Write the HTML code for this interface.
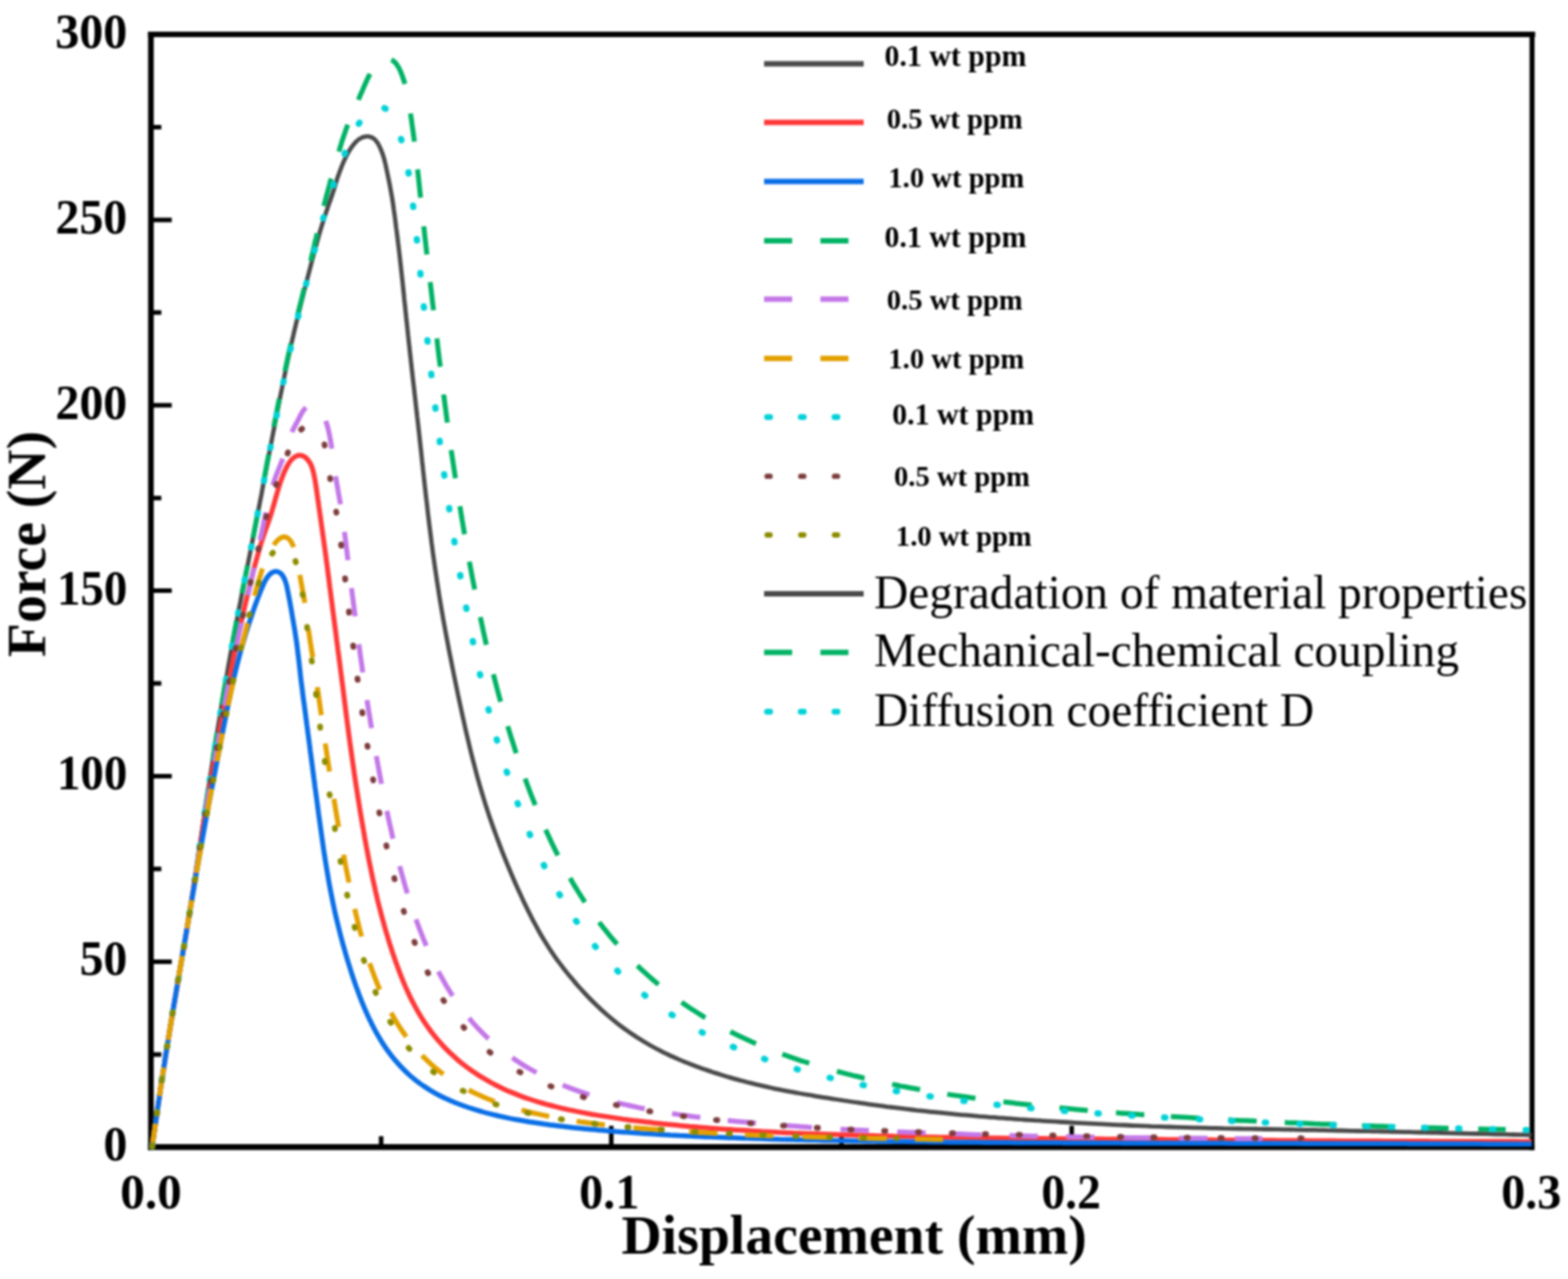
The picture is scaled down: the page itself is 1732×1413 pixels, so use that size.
<!DOCTYPE html>
<html lang="en">
<head>
<meta charset="utf-8">
<title>Force-displacement curves</title>
<style>
html,body{margin:0;padding:0;background:#fff;}
body{width:1732px;height:1413px;overflow:hidden;}
svg{display:block;}
text{white-space:pre;}
</style>
</head>
<body>
<svg width="1732" height="1413" viewBox="0 0 1732 1413">
<defs><filter id="soft" x="-2" y="-2" width="1736" height="1417" filterUnits="userSpaceOnUse" color-interpolation-filters="sRGB"><feGaussianBlur in="SourceGraphic" stdDeviation="0.8"/></filter></defs>
<rect width="1732" height="1413" fill="#fff"/>
<g filter="url(#soft)">
<g id="axes">
<path d="M166.7 35.0V1270.5" stroke="#000" stroke-width="6.2" fill="none"/>
<path d="M163.6 1267.3H1695.1" stroke="#000" stroke-width="6.4" fill="none"/>
<path d="M163.6 38.0H1695.7" stroke="#000" stroke-width="5.9" fill="none"/>
<path d="M1692.3 35.0V1270.5" stroke="#000" stroke-width="5.5" fill="none"/>
<path d="M166.7 1164.9h11.5M166.7 1062.4h23.0M166.7 960.0h11.5M166.7 857.5h23.0M166.7 755.1h11.5M166.7 652.6h23.0M166.7 550.2h11.5M166.7 447.8h23.0M166.7 345.3h11.5M166.7 242.9h23.0M166.7 140.4h11.5M421.0 1267.3v-12.0M675.2 1267.3v-23.5M929.5 1267.3v-12.0M1183.8 1267.3v-23.5M1438.0 1267.3v-12.0" fill="none" stroke="#000" stroke-width="5.0"/>
</g>
<g id="curves">
<path class="c-black" fill="none" stroke="#4a4a4a" stroke-width="4.8" stroke-linejoin="round" stroke-linecap="butt" d="M168.0 1267.0C168.5 1263.7 168.9 1260.4 169.4 1257.1C169.9 1253.8 170.4 1250.5 170.9 1247.2C171.3 1243.9 171.8 1240.6 172.3 1237.3C172.8 1234.0 173.2 1230.7 173.7 1227.4C174.2 1224.1 174.7 1220.8 175.2 1217.5C175.7 1214.2 176.2 1210.9 176.6 1207.6C177.1 1204.3 177.6 1201.0 178.1 1197.7C178.6 1194.4 179.1 1191.1 179.6 1187.8C180.1 1184.5 180.7 1181.2 181.2 1177.9C181.7 1174.6 182.2 1171.3 182.7 1168.0C183.2 1164.7 183.8 1161.4 184.3 1158.1C184.8 1154.9 185.3 1151.6 185.9 1148.3C186.4 1145.0 187.0 1141.7 187.5 1138.4C188.0 1135.1 188.6 1131.8 189.1 1128.5C189.7 1125.2 190.2 1121.9 190.8 1118.6C191.3 1115.4 191.9 1112.1 192.4 1108.8C193.0 1105.5 193.5 1102.2 194.1 1098.9C194.6 1095.6 195.2 1092.3 195.8 1089.0C196.3 1085.8 196.9 1082.5 197.5 1079.2C198.0 1075.9 198.6 1072.6 199.2 1069.3C199.7 1066.0 200.3 1062.7 200.8 1059.5C201.4 1056.2 202.0 1052.9 202.5 1049.6C203.1 1046.3 203.7 1043.0 204.2 1039.7C204.8 1036.4 205.3 1033.2 205.9 1029.9C206.4 1026.6 207.0 1023.3 207.5 1020.0C208.1 1016.7 208.6 1013.4 209.1 1010.1C209.7 1006.8 210.2 1003.5 210.7 1000.2C211.3 996.9 211.8 993.7 212.3 990.4C212.8 987.1 213.3 983.8 213.8 980.5C214.3 977.2 214.8 973.9 215.3 970.6C215.8 967.3 216.3 964.0 216.8 960.7C217.3 957.4 217.8 954.1 218.3 950.8C218.7 947.5 219.2 944.2 219.7 940.9C220.2 937.6 220.7 934.3 221.2 931.0C221.6 927.7 222.1 924.4 222.6 921.1C223.1 917.8 223.6 914.5 224.1 911.2C224.6 907.9 225.1 904.6 225.6 901.3C226.1 898.0 226.5 894.7 227.0 891.4C227.5 888.1 228.1 884.8 228.6 881.5C229.1 878.2 229.6 874.9 230.1 871.6C230.6 868.3 231.1 865.0 231.6 861.7C232.1 858.4 232.6 855.1 233.2 851.8C233.7 848.5 234.2 845.2 234.7 841.9C235.2 838.7 235.7 835.4 236.3 832.1C236.8 828.8 237.3 825.5 237.8 822.2C238.4 818.9 238.9 815.6 239.4 812.3C239.9 809.0 240.5 805.7 241.0 802.4C241.5 799.1 242.1 795.8 242.6 792.5C243.1 789.3 243.7 786.0 244.2 782.7C244.8 779.4 245.3 776.1 245.9 772.8C246.4 769.5 247.0 766.2 247.6 762.9C248.1 759.7 248.7 756.4 249.3 753.1C249.8 749.8 250.4 746.5 251.0 743.2C251.6 739.9 252.1 736.6 252.7 733.4C253.3 730.1 253.9 726.8 254.5 723.5C255.1 720.2 255.7 717.0 256.3 713.7C256.9 710.4 257.5 707.1 258.1 703.8C258.7 700.5 259.3 697.3 259.9 694.0C260.5 690.7 261.1 687.4 261.8 684.2C262.4 680.9 263.0 677.6 263.6 674.3C264.3 671.1 264.9 667.8 265.6 664.5C266.2 661.2 266.8 658.0 267.5 654.7C268.1 651.4 268.8 648.2 269.4 644.9C270.1 641.6 270.8 638.3 271.4 635.1C272.1 631.8 272.7 628.5 273.4 625.3C274.0 622.0 274.7 618.7 275.3 615.4C276.0 612.2 276.6 608.9 277.3 605.6C277.9 602.4 278.6 599.1 279.2 595.8C279.8 592.5 280.5 589.3 281.1 586.0C281.7 582.7 282.4 579.4 283.0 576.2C283.6 572.9 284.3 569.6 284.9 566.3C285.5 563.1 286.2 559.8 286.8 556.5C287.4 553.2 288.0 550.0 288.7 546.7C289.3 543.4 289.9 540.1 290.5 536.8C291.2 533.6 291.8 530.3 292.4 527.0C293.0 523.7 293.6 520.5 294.3 517.2C294.9 513.9 295.5 510.6 296.1 507.4C296.8 504.1 297.4 500.8 298.0 497.5C298.7 494.3 299.3 491.0 299.9 487.7C300.5 484.4 301.2 481.2 301.8 477.9C302.4 474.6 303.1 471.3 303.7 468.1C304.3 464.8 305.0 461.5 305.6 458.2C306.3 455.0 306.9 451.7 307.6 448.4C308.2 445.1 308.8 441.9 309.5 438.6C310.1 435.3 310.8 432.1 311.5 428.8C312.1 425.5 312.8 422.3 313.5 419.0C314.1 415.7 314.8 412.5 315.5 409.2C316.2 405.9 316.9 402.7 317.5 399.4C318.2 396.1 318.9 392.9 319.7 389.6C320.4 386.4 321.1 383.1 321.8 379.8C322.6 376.6 323.3 373.3 324.1 370.1C324.8 366.8 325.6 363.6 326.4 360.4C327.1 357.1 327.9 353.9 328.7 350.6C329.5 347.4 330.3 344.1 331.1 340.9C331.9 337.7 332.7 334.4 333.5 331.2C334.4 328.0 335.2 324.7 336.0 321.5C336.8 318.3 337.7 315.0 338.5 311.8C339.3 308.6 340.1 305.4 341.0 302.1C341.8 298.9 342.7 295.7 343.5 292.4C344.3 289.2 345.2 286.0 346.0 282.8C346.9 279.5 347.8 276.3 348.6 273.1C349.5 269.9 350.4 266.7 351.3 263.5C352.2 260.2 353.1 257.0 354.1 253.8C355.1 250.6 356.0 247.5 357.1 244.3C358.1 241.1 359.1 237.9 360.2 234.8C361.3 231.6 362.3 228.5 363.4 225.3C364.5 222.2 365.6 219.0 366.7 215.9C367.8 212.7 368.8 209.5 369.8 206.3C370.7 203.1 371.7 200.0 372.7 196.8C373.8 193.6 374.9 190.5 376.1 187.3C377.3 184.2 378.5 181.1 379.9 178.1C381.2 175.1 382.7 172.0 384.3 169.1C385.9 166.2 387.6 163.4 389.7 160.7C391.7 158.0 394.0 155.5 396.7 153.6C399.5 151.7 402.8 150.5 406.1 150.6C409.4 150.7 412.5 152.4 414.8 154.9C417.0 157.3 418.7 160.3 420.0 163.4C421.4 166.4 422.5 169.6 423.5 172.7C424.5 175.9 425.2 179.2 426.0 182.4C426.7 185.7 427.4 189.0 428.1 192.2C428.7 195.5 429.4 198.8 430.1 202.0C430.7 205.3 431.3 208.6 431.9 211.9C432.5 215.1 433.1 218.4 433.6 221.7C434.1 225.0 434.6 228.3 435.0 231.6C435.5 234.9 435.9 238.2 436.4 241.5C436.8 244.9 437.2 248.2 437.6 251.5C438.1 254.8 438.5 258.1 438.9 261.4C439.3 264.7 439.7 268.0 440.1 271.3C440.5 274.6 440.9 278.0 441.3 281.3C441.7 284.6 442.0 287.9 442.4 291.2C442.8 294.5 443.1 297.8 443.5 301.2C443.9 304.5 444.2 307.8 444.6 311.1C444.9 314.4 445.3 317.7 445.6 321.1C446.0 324.4 446.3 327.7 446.6 331.0C447.0 334.3 447.3 337.6 447.7 341.0C448.0 344.3 448.4 347.6 448.7 350.9C449.1 354.2 449.4 357.5 449.8 360.9C450.1 364.2 450.5 367.5 450.8 370.8C451.2 374.1 451.5 377.4 451.9 380.8C452.3 384.1 452.6 387.4 453.0 390.7C453.4 394.0 453.7 397.3 454.1 400.7C454.5 404.0 454.8 407.3 455.2 410.6C455.6 413.9 455.9 417.2 456.3 420.5C456.7 423.9 457.1 427.2 457.5 430.5C457.8 433.8 458.2 437.1 458.6 440.4C459.0 443.7 459.3 447.1 459.7 450.4C460.1 453.7 460.5 457.0 460.8 460.3C461.2 463.6 461.6 466.9 462.0 470.3C462.3 473.6 462.7 476.9 463.1 480.2C463.4 483.5 463.8 486.8 464.2 490.1C464.5 493.5 464.9 496.8 465.3 500.1C465.6 503.4 466.0 506.7 466.3 510.0C466.7 513.4 467.1 516.7 467.4 520.0C467.8 523.3 468.1 526.6 468.5 529.9C468.9 533.2 469.2 536.6 469.6 539.9C470.0 543.2 470.3 546.5 470.7 549.8C471.1 553.1 471.5 556.5 471.9 559.8C472.2 563.1 472.6 566.4 473.0 569.7C473.4 573.0 473.8 576.3 474.2 579.6C474.6 582.9 475.0 586.3 475.5 589.6C475.9 592.9 476.3 596.2 476.7 599.5C477.2 602.8 477.6 606.1 478.0 609.4C478.5 612.7 478.9 616.0 479.4 619.3C479.9 622.6 480.3 625.9 480.8 629.2C481.3 632.5 481.8 635.8 482.3 639.1C482.7 642.4 483.3 645.7 483.8 649.0C484.3 652.3 484.8 655.6 485.3 658.9C485.9 662.2 486.4 665.5 487.0 668.8C487.5 672.1 488.1 675.4 488.7 678.6C489.2 681.9 489.8 685.2 490.4 688.5C491.0 691.8 491.6 695.1 492.2 698.3C492.8 701.6 493.4 704.9 494.1 708.2C494.7 711.4 495.3 714.7 495.9 718.0C496.6 721.3 497.2 724.5 497.9 727.8C498.5 731.1 499.2 734.4 499.8 737.6C500.5 740.9 501.1 744.2 501.8 747.4C502.5 750.7 503.1 754.0 503.8 757.2C504.5 760.5 505.2 763.8 505.8 767.0C506.5 770.3 507.2 773.6 507.9 776.8C508.6 780.1 509.3 783.4 510.0 786.6C510.7 789.9 511.4 793.1 512.2 796.4C512.9 799.6 513.6 802.9 514.3 806.2C515.1 809.4 515.8 812.7 516.6 815.9C517.4 819.1 518.1 822.4 518.9 825.6C519.7 828.9 520.5 832.1 521.3 835.4C522.1 838.6 522.9 841.8 523.8 845.0C524.6 848.3 525.5 851.5 526.3 854.7C527.2 857.9 528.1 861.2 529.0 864.4C529.9 867.6 530.8 870.8 531.8 874.0C532.7 877.2 533.7 880.4 534.7 883.6C535.6 886.7 536.6 889.9 537.7 893.1C538.7 896.3 539.7 899.4 540.8 902.6C541.9 905.8 543.0 908.9 544.1 912.1C545.2 915.2 546.3 918.3 547.5 921.5C548.6 924.6 549.8 927.7 551.0 930.9C552.1 934.0 553.3 937.1 554.5 940.2C555.8 943.3 557.0 946.4 558.2 949.5C559.5 952.6 560.7 955.7 562.0 958.8C563.3 961.8 564.6 964.9 565.9 968.0C567.2 971.1 568.5 974.1 569.9 977.2C571.2 980.2 572.6 983.3 574.0 986.3C575.4 989.3 576.8 992.3 578.2 995.4C579.6 998.4 581.1 1001.4 582.5 1004.4C584.0 1007.4 585.5 1010.4 587.0 1013.3C588.5 1016.3 590.1 1019.3 591.7 1022.2C593.2 1025.1 594.8 1028.1 596.5 1031.0C598.1 1033.9 599.8 1036.7 601.6 1039.6C603.3 1042.4 605.1 1045.2 606.9 1048.0C608.7 1050.8 610.6 1053.6 612.5 1056.3C614.4 1059.1 616.4 1061.8 618.4 1064.4C620.4 1067.1 622.4 1069.8 624.5 1072.4C626.5 1075.0 628.6 1077.6 630.8 1080.1C632.9 1082.7 635.1 1085.2 637.3 1087.8C639.5 1090.3 641.7 1092.7 643.9 1095.2C646.2 1097.7 648.5 1100.1 650.8 1102.5C653.2 1104.9 655.5 1107.2 657.9 1109.5C660.3 1111.8 662.7 1114.1 665.2 1116.4C667.7 1118.6 670.2 1120.8 672.7 1123.0C675.3 1125.2 677.8 1127.3 680.4 1129.4C683.0 1131.4 685.7 1133.5 688.4 1135.5C691.1 1137.4 693.8 1139.4 696.5 1141.3C699.3 1143.2 702.0 1145.0 704.8 1146.8C707.7 1148.6 710.5 1150.3 713.4 1152.0C716.2 1153.7 719.1 1155.4 722.1 1157.0C725.0 1158.6 728.0 1160.1 730.9 1161.6C733.9 1163.1 736.9 1164.6 739.9 1166.0C743.0 1167.4 746.0 1168.8 749.1 1170.1C752.1 1171.4 755.2 1172.7 758.3 1173.9C761.4 1175.2 764.5 1176.4 767.6 1177.5C770.8 1178.7 773.9 1179.9 777.0 1181.0C780.2 1182.1 783.4 1183.1 786.5 1184.2C789.7 1185.2 792.9 1186.3 796.0 1187.2C799.2 1188.2 802.4 1189.2 805.6 1190.1C808.8 1191.1 812.0 1192.0 815.2 1192.9C818.5 1193.8 821.7 1194.6 824.9 1195.5C828.1 1196.3 831.4 1197.1 834.6 1197.9C837.9 1198.7 841.1 1199.4 844.4 1200.1C847.6 1200.9 850.9 1201.6 854.1 1202.3C857.4 1203.0 860.7 1203.6 864.0 1204.3C867.2 1204.9 870.5 1205.5 873.8 1206.2C877.1 1206.8 880.3 1207.4 883.6 1208.0C886.9 1208.5 890.2 1209.1 893.5 1209.7C896.8 1210.2 900.1 1210.8 903.3 1211.3C906.6 1211.9 909.9 1212.4 913.2 1212.9C916.5 1213.5 919.8 1214.0 923.1 1214.5C926.4 1215.0 929.7 1215.5 933.0 1216.0C936.3 1216.5 939.6 1217.0 942.9 1217.5C946.2 1218.0 949.5 1218.4 952.8 1218.9C956.1 1219.4 959.4 1219.8 962.7 1220.3C966.0 1220.8 969.3 1221.2 972.6 1221.6C975.9 1222.1 979.2 1222.5 982.5 1223.0C985.9 1223.4 989.2 1223.8 992.5 1224.2C995.8 1224.6 999.1 1225.0 1002.4 1225.4C1005.7 1225.8 1009.0 1226.2 1012.3 1226.6C1015.7 1226.9 1019.0 1227.3 1022.3 1227.6C1025.6 1228.0 1028.9 1228.4 1032.2 1228.7C1035.6 1229.0 1038.9 1229.4 1042.2 1229.7C1045.5 1230.0 1048.8 1230.3 1052.2 1230.6C1055.5 1231.0 1058.8 1231.3 1062.1 1231.6C1065.4 1231.8 1068.8 1232.1 1072.1 1232.4C1075.4 1232.7 1078.7 1233.0 1082.1 1233.3C1085.4 1233.5 1088.7 1233.8 1092.0 1234.1C1095.4 1234.3 1098.7 1234.6 1102.0 1234.8C1105.3 1235.1 1108.7 1235.3 1112.0 1235.6C1115.3 1235.8 1118.7 1236.1 1122.0 1236.3C1125.3 1236.5 1128.6 1236.7 1132.0 1237.0C1135.3 1237.2 1138.6 1237.4 1141.9 1237.6C1145.3 1237.8 1148.6 1238.1 1151.9 1238.3C1155.3 1238.5 1158.6 1238.7 1161.9 1238.9C1165.2 1239.1 1168.6 1239.3 1171.9 1239.5C1175.2 1239.7 1178.6 1239.9 1181.9 1240.0C1185.2 1240.2 1188.6 1240.4 1191.9 1240.6C1195.2 1240.8 1198.5 1241.0 1201.9 1241.1C1205.2 1241.3 1208.5 1241.5 1211.9 1241.6C1215.2 1241.8 1218.5 1242.0 1221.9 1242.1C1225.2 1242.3 1228.5 1242.4 1231.9 1242.6C1235.2 1242.8 1238.5 1242.9 1241.9 1243.0C1245.2 1243.2 1248.5 1243.3 1251.9 1243.5C1255.2 1243.6 1258.5 1243.8 1261.9 1243.9C1265.2 1244.0 1268.5 1244.1 1271.9 1244.3C1275.2 1244.4 1278.5 1244.5 1281.9 1244.6C1285.2 1244.7 1288.5 1244.9 1291.9 1245.0C1295.2 1245.1 1298.5 1245.2 1301.9 1245.3C1305.2 1245.4 1308.5 1245.5 1311.9 1245.6C1315.2 1245.7 1318.5 1245.8 1321.9 1245.8C1325.2 1245.9 1328.5 1246.0 1331.9 1246.1C1335.2 1246.2 1338.5 1246.3 1341.9 1246.3C1345.2 1246.4 1348.5 1246.5 1351.9 1246.6C1355.2 1246.6 1358.5 1246.7 1361.9 1246.8C1365.2 1246.8 1368.5 1246.9 1371.9 1247.0C1375.2 1247.0 1378.5 1247.1 1381.9 1247.2C1385.2 1247.2 1388.6 1247.3 1391.9 1247.3C1395.2 1247.4 1398.6 1247.5 1401.9 1247.5C1405.2 1247.6 1408.6 1247.6 1411.9 1247.7C1415.2 1247.8 1418.6 1247.8 1421.9 1247.9C1425.2 1247.9 1428.6 1248.0 1431.9 1248.1C1435.2 1248.1 1438.6 1248.2 1441.9 1248.3C1445.2 1248.3 1448.6 1248.4 1451.9 1248.4C1455.2 1248.5 1458.6 1248.6 1461.9 1248.6C1465.3 1248.7 1468.6 1248.8 1471.9 1248.8C1475.3 1248.9 1478.6 1249.0 1481.9 1249.0C1485.3 1249.1 1488.6 1249.2 1491.9 1249.3C1495.3 1249.3 1498.6 1249.4 1501.9 1249.5C1505.3 1249.5 1508.6 1249.6 1511.9 1249.7C1515.3 1249.8 1518.6 1249.8 1521.9 1249.9C1525.3 1250.0 1528.6 1250.0 1531.9 1250.1C1535.3 1250.2 1538.6 1250.3 1542.0 1250.3C1545.3 1250.4 1548.6 1250.5 1552.0 1250.6C1555.3 1250.7 1558.6 1250.7 1562.0 1250.8C1565.3 1250.9 1568.6 1251.0 1572.0 1251.0C1575.3 1251.1 1578.6 1251.2 1582.0 1251.3C1585.3 1251.4 1588.6 1251.4 1592.0 1251.5C1595.3 1251.6 1598.6 1251.7 1602.0 1251.8C1605.3 1251.8 1608.6 1251.9 1612.0 1252.0C1615.3 1252.1 1618.6 1252.2 1622.0 1252.3C1625.3 1252.3 1628.6 1252.4 1632.0 1252.5C1635.3 1252.6 1638.6 1252.7 1642.0 1252.7C1645.3 1252.8 1648.7 1252.9 1652.0 1253.0C1655.3 1253.1 1658.7 1253.2 1662.0 1253.2C1665.3 1253.3 1668.7 1253.4 1672.0 1253.5C1675.3 1253.6 1678.7 1253.7 1682.0 1253.7C1685.3 1253.8 1688.7 1253.9 1692.0 1254.0"/>
<path class="c-red" fill="none" stroke="#ff3838" stroke-width="5.5" stroke-linejoin="round" stroke-linecap="butt" d="M168.0 1267.0C168.5 1263.7 168.9 1260.4 169.4 1257.1C169.9 1253.8 170.4 1250.5 170.9 1247.2C171.3 1243.9 171.8 1240.6 172.3 1237.3C172.8 1234.0 173.2 1230.7 173.7 1227.4C174.2 1224.1 174.7 1220.8 175.2 1217.5C175.7 1214.2 176.2 1210.9 176.7 1207.6C177.1 1204.3 177.6 1201.0 178.1 1197.7C178.6 1194.4 179.1 1191.1 179.6 1187.8C180.2 1184.5 180.7 1181.2 181.2 1177.9C181.7 1174.6 182.2 1171.3 182.7 1168.0C183.2 1164.7 183.8 1161.4 184.3 1158.1C184.8 1154.8 185.4 1151.5 185.9 1148.2C186.4 1144.9 187.0 1141.6 187.5 1138.3C188.0 1135.0 188.6 1131.7 189.1 1128.4C189.7 1125.1 190.2 1121.8 190.8 1118.6C191.3 1115.3 191.9 1112.0 192.4 1108.7C193.0 1105.4 193.5 1102.1 194.1 1098.8C194.6 1095.5 195.2 1092.2 195.8 1088.9C196.3 1085.7 196.9 1082.4 197.5 1079.1C198.0 1075.8 198.6 1072.5 199.1 1069.2C199.7 1065.9 200.3 1062.6 200.8 1059.3C201.4 1056.0 202.0 1052.8 202.5 1049.5C203.1 1046.2 203.6 1042.9 204.2 1039.6C204.8 1036.3 205.3 1033.0 205.9 1029.7C206.4 1026.4 207.0 1023.1 207.5 1019.8C208.1 1016.6 208.6 1013.3 209.2 1010.0C209.7 1006.7 210.2 1003.4 210.8 1000.1C211.3 996.8 211.8 993.5 212.3 990.2C212.9 986.9 213.4 983.6 213.9 980.3C214.4 977.0 214.9 973.7 215.5 970.4C216.0 967.1 216.5 963.8 217.0 960.5C217.5 957.2 218.0 953.9 218.5 950.6C219.0 947.3 219.5 944.0 220.1 940.7C220.6 937.4 221.1 934.1 221.6 930.8C222.1 927.5 222.6 924.3 223.2 921.0C223.7 917.7 224.2 914.4 224.7 911.1C225.3 907.8 225.8 904.5 226.4 901.2C226.9 897.9 227.4 894.6 228.0 891.3C228.5 888.0 229.1 884.7 229.7 881.4C230.2 878.1 230.8 874.9 231.4 871.6C231.9 868.3 232.5 865.0 233.1 861.7C233.7 858.4 234.2 855.1 234.8 851.8C235.4 848.6 236.0 845.3 236.6 842.0C237.1 838.7 237.7 835.4 238.3 832.1C238.9 828.8 239.5 825.6 240.1 822.3C240.7 819.0 241.3 815.7 241.9 812.4C242.4 809.1 243.0 805.9 243.6 802.6C244.2 799.3 244.8 796.0 245.4 792.7C246.0 789.4 246.6 786.2 247.2 782.9C247.8 779.6 248.4 776.3 249.1 773.0C249.7 769.7 250.3 766.5 250.9 763.2C251.5 759.9 252.1 756.6 252.8 753.3C253.4 750.1 254.0 746.8 254.7 743.5C255.3 740.2 255.9 737.0 256.6 733.7C257.2 730.4 257.9 727.1 258.6 723.9C259.3 720.6 259.9 717.3 260.6 714.1C261.3 710.8 262.0 707.5 262.7 704.3C263.4 701.0 264.1 697.8 264.8 694.5C265.6 691.2 266.3 688.0 267.0 684.7C267.7 681.5 268.5 678.2 269.2 675.0C270.0 671.7 270.7 668.5 271.5 665.2C272.3 662.0 273.0 658.7 273.8 655.5C274.6 652.2 275.4 649.0 276.2 645.7C276.9 642.5 277.8 639.3 278.6 636.0C279.4 632.8 280.2 629.6 281.1 626.3C281.9 623.1 282.8 619.9 283.7 616.7C284.6 613.4 285.5 610.2 286.4 607.0C287.4 603.8 288.3 600.6 289.3 597.5C290.3 594.3 291.4 591.1 292.5 587.9C293.6 584.8 294.7 581.6 295.8 578.5C296.9 575.4 298.0 572.2 299.1 569.0C300.1 565.9 301.0 562.7 301.9 559.4C302.9 556.2 303.7 553.0 304.6 549.8C305.5 546.6 306.4 543.4 307.4 540.2C308.3 537.0 309.4 533.8 310.5 530.6C311.6 527.5 312.7 524.4 314.1 521.3C315.4 518.3 316.8 515.2 318.6 512.4C320.3 509.5 322.5 506.8 325.2 505.0C328.1 503.1 331.7 502.6 334.8 503.8C337.7 505.0 340.1 507.6 341.9 510.6C343.7 513.4 344.9 516.6 345.7 519.8C346.6 523.0 347.2 526.3 347.8 529.6C348.4 532.9 348.9 536.2 349.4 539.5C349.9 542.8 350.4 546.1 350.8 549.4C351.3 552.7 351.8 556.0 352.2 559.3C352.7 562.6 353.1 565.9 353.6 569.2C354.1 572.5 354.5 575.8 355.0 579.1C355.5 582.4 355.9 585.7 356.4 589.0C356.9 592.3 357.3 595.6 357.8 599.0C358.2 602.3 358.7 605.6 359.2 608.9C359.6 612.2 360.1 615.5 360.5 618.8C360.9 622.1 361.4 625.4 361.8 628.7C362.2 632.0 362.6 635.3 363.1 638.7C363.5 642.0 363.9 645.3 364.3 648.6C364.8 651.9 365.2 655.2 365.6 658.5C366.0 661.8 366.5 665.1 366.9 668.4C367.3 671.8 367.7 675.1 368.2 678.4C368.6 681.7 369.0 685.0 369.5 688.3C369.9 691.6 370.3 694.9 370.8 698.2C371.2 701.5 371.6 704.8 372.0 708.2C372.5 711.5 372.9 714.8 373.3 718.1C373.8 721.4 374.2 724.7 374.6 728.0C375.1 731.3 375.5 734.6 375.9 737.9C376.3 741.3 376.8 744.6 377.2 747.9C377.6 751.2 378.0 754.5 378.5 757.8C378.9 761.1 379.3 764.4 379.7 767.7C380.1 771.1 380.5 774.4 381.0 777.7C381.4 781.0 381.8 784.3 382.2 787.6C382.6 790.9 383.1 794.2 383.5 797.5C383.9 800.8 384.4 804.2 384.8 807.5C385.2 810.8 385.7 814.1 386.1 817.4C386.6 820.7 387.0 824.0 387.5 827.3C387.9 830.6 388.4 833.9 388.9 837.2C389.3 840.5 389.8 843.8 390.3 847.1C390.8 850.4 391.3 853.7 391.7 857.0C392.2 860.3 392.7 863.6 393.2 866.9C393.7 870.2 394.2 873.5 394.8 876.8C395.3 880.1 395.8 883.4 396.3 886.7C396.9 890.0 397.4 893.3 397.9 896.6C398.5 899.9 399.0 903.2 399.6 906.5C400.2 909.8 400.7 913.1 401.3 916.3C401.9 919.6 402.4 922.9 403.0 926.2C403.6 929.5 404.2 932.8 404.8 936.1C405.5 939.3 406.1 942.6 406.7 945.9C407.3 949.2 408.0 952.4 408.6 955.7C409.3 959.0 410.0 962.3 410.7 965.5C411.3 968.8 412.0 972.1 412.8 975.3C413.5 978.6 414.2 981.8 414.9 985.1C415.7 988.3 416.5 991.6 417.2 994.8C418.0 998.1 418.8 1001.3 419.7 1004.5C420.5 1007.8 421.3 1011.0 422.2 1014.2C423.1 1017.4 424.0 1020.7 424.9 1023.9C425.8 1027.1 426.7 1030.3 427.7 1033.5C428.6 1036.7 429.6 1039.9 430.6 1043.1C431.6 1046.2 432.7 1049.4 433.7 1052.6C434.8 1055.7 435.8 1058.9 436.9 1062.1C438.1 1065.2 439.2 1068.3 440.4 1071.5C441.5 1074.6 442.7 1077.7 444.0 1080.8C445.2 1083.9 446.5 1087.0 447.8 1090.0C449.2 1093.1 450.5 1096.1 452.0 1099.2C453.4 1102.2 454.9 1105.2 456.4 1108.1C458.0 1111.1 459.6 1114.0 461.2 1116.9C462.9 1119.8 464.6 1122.7 466.4 1125.5C468.2 1128.3 470.0 1131.1 472.0 1133.8C473.9 1136.5 475.9 1139.2 477.9 1141.9C479.9 1144.5 482.1 1147.1 484.2 1149.6C486.4 1152.2 488.6 1154.6 490.9 1157.0C493.3 1159.5 495.6 1161.8 498.0 1164.1C500.5 1166.4 502.9 1168.6 505.5 1170.8C508.0 1173.0 510.6 1175.1 513.3 1177.1C515.9 1179.1 518.6 1181.1 521.3 1183.0C524.1 1184.9 526.9 1186.8 529.7 1188.6C532.5 1190.3 535.4 1192.1 538.3 1193.7C541.2 1195.4 544.1 1196.9 547.1 1198.5C550.0 1200.0 553.0 1201.5 556.1 1202.9C559.1 1204.3 562.1 1205.6 565.2 1206.9C568.3 1208.2 571.4 1209.4 574.5 1210.6C577.7 1211.8 580.8 1212.9 584.0 1214.0C587.1 1215.0 590.3 1216.1 593.5 1217.1C596.7 1218.0 599.9 1219.0 603.1 1219.9C606.3 1220.7 609.5 1221.6 612.8 1222.4C616.0 1223.2 619.3 1224.0 622.5 1224.8C625.8 1225.5 629.0 1226.2 632.3 1226.9C635.6 1227.6 638.8 1228.2 642.1 1228.9C645.4 1229.5 648.7 1230.1 652.0 1230.7C655.2 1231.3 658.5 1231.8 661.8 1232.4C665.1 1232.9 668.4 1233.4 671.7 1233.9C675.0 1234.4 678.3 1234.9 681.6 1235.4C684.9 1235.9 688.2 1236.3 691.5 1236.8C694.8 1237.2 698.2 1237.6 701.5 1238.1C704.8 1238.5 708.1 1238.9 711.4 1239.3C714.7 1239.7 718.0 1240.0 721.3 1240.4C724.7 1240.8 728.0 1241.1 731.3 1241.5C734.6 1241.8 737.9 1242.2 741.3 1242.5C744.6 1242.8 747.9 1243.1 751.2 1243.5C754.6 1243.8 757.9 1244.1 761.2 1244.4C764.5 1244.7 767.9 1244.9 771.2 1245.2C774.5 1245.5 777.8 1245.8 781.2 1246.0C784.5 1246.3 787.8 1246.5 791.1 1246.8C794.5 1247.0 797.8 1247.3 801.1 1247.5C804.5 1247.7 807.8 1248.0 811.1 1248.2C814.4 1248.4 817.8 1248.6 821.1 1248.8C824.4 1249.0 827.8 1249.2 831.1 1249.4C834.4 1249.6 837.8 1249.8 841.1 1250.0C844.4 1250.1 847.8 1250.3 851.1 1250.5C854.4 1250.7 857.8 1250.8 861.1 1251.0C864.4 1251.1 867.8 1251.3 871.1 1251.4C874.4 1251.6 877.8 1251.7 881.1 1251.9C884.4 1252.0 887.8 1252.1 891.1 1252.3C894.4 1252.4 897.8 1252.5 901.1 1252.6C904.4 1252.8 907.8 1252.9 911.1 1253.0C914.5 1253.1 917.8 1253.2 921.1 1253.3C924.5 1253.5 927.8 1253.6 931.1 1253.7C934.5 1253.8 937.8 1253.9 941.1 1254.0C944.5 1254.1 947.8 1254.2 951.1 1254.3C954.5 1254.4 957.8 1254.5 961.2 1254.6C964.5 1254.7 967.8 1254.8 971.2 1254.9C974.5 1255.0 977.8 1255.0 981.2 1255.1C984.5 1255.2 987.8 1255.3 991.2 1255.4C994.5 1255.5 997.9 1255.5 1001.2 1255.6C1004.5 1255.7 1007.9 1255.8 1011.2 1255.8C1014.5 1255.9 1017.9 1256.0 1021.2 1256.0C1024.5 1256.1 1027.9 1256.2 1031.2 1256.2C1034.6 1256.3 1037.9 1256.4 1041.2 1256.4C1044.6 1256.5 1047.9 1256.5 1051.2 1256.6C1054.6 1256.7 1057.9 1256.7 1061.3 1256.8C1064.6 1256.8 1067.9 1256.9 1071.3 1256.9C1074.6 1257.0 1077.9 1257.0 1081.3 1257.1C1084.6 1257.1 1087.9 1257.1 1091.3 1257.2C1094.6 1257.2 1098.0 1257.3 1101.3 1257.3C1104.6 1257.4 1108.0 1257.4 1111.3 1257.4C1114.6 1257.5 1118.0 1257.5 1121.3 1257.5C1124.7 1257.6 1128.0 1257.6 1131.3 1257.7C1134.7 1257.7 1138.0 1257.7 1141.3 1257.8C1144.7 1257.8 1148.0 1257.8 1151.4 1257.8C1154.7 1257.9 1158.0 1257.9 1161.4 1257.9C1164.7 1258.0 1168.0 1258.0 1171.4 1258.0C1174.7 1258.0 1178.1 1258.1 1181.4 1258.1C1184.7 1258.1 1188.1 1258.1 1191.4 1258.2C1194.7 1258.2 1198.1 1258.2 1201.4 1258.2C1204.8 1258.3 1208.1 1258.3 1211.4 1258.3C1214.8 1258.3 1218.1 1258.4 1221.4 1258.4C1224.8 1258.4 1228.1 1258.4 1231.4 1258.5C1234.8 1258.5 1238.1 1258.5 1241.5 1258.5C1244.8 1258.5 1248.1 1258.6 1251.5 1258.6C1254.8 1258.6 1258.1 1258.6 1261.5 1258.7C1264.8 1258.7 1268.2 1258.7 1271.5 1258.7C1274.8 1258.7 1278.2 1258.8 1281.5 1258.8C1284.8 1258.8 1288.2 1258.8 1291.5 1258.9C1294.9 1258.9 1298.2 1258.9 1301.5 1258.9C1304.9 1259.0 1308.2 1259.0 1311.5 1259.0C1314.9 1259.0 1318.2 1259.1 1321.6 1259.1C1324.9 1259.1 1328.2 1259.2 1331.6 1259.2C1334.9 1259.2 1338.2 1259.2 1341.6 1259.3C1344.9 1259.3 1348.3 1259.3 1351.6 1259.4C1354.9 1259.4 1358.3 1259.4 1361.6 1259.4C1364.9 1259.5 1368.3 1259.5 1371.6 1259.5C1375.0 1259.6 1378.3 1259.6 1381.6 1259.6C1385.0 1259.7 1388.3 1259.7 1391.6 1259.7C1395.0 1259.7 1398.3 1259.8 1401.7 1259.8C1405.0 1259.8 1408.3 1259.9 1411.7 1259.9C1415.0 1259.9 1418.3 1259.9 1421.7 1260.0C1425.0 1260.0 1428.3 1260.0 1431.7 1260.0C1435.0 1260.1 1438.4 1260.1 1441.7 1260.1C1445.0 1260.1 1448.4 1260.2 1451.7 1260.2C1455.0 1260.2 1458.4 1260.2 1461.7 1260.3C1465.1 1260.3 1468.4 1260.3 1471.7 1260.3C1475.1 1260.4 1478.4 1260.4 1481.7 1260.4C1485.1 1260.4 1488.4 1260.4 1491.8 1260.5C1495.1 1260.5 1498.4 1260.5 1501.8 1260.5C1505.1 1260.5 1508.4 1260.5 1511.8 1260.6C1515.1 1260.6 1518.5 1260.6 1521.8 1260.6C1525.1 1260.6 1528.5 1260.6 1531.8 1260.7C1535.1 1260.7 1538.5 1260.7 1541.8 1260.7C1545.2 1260.7 1548.5 1260.7 1551.8 1260.8C1555.2 1260.8 1558.5 1260.8 1561.8 1260.8C1565.2 1260.8 1568.5 1260.8 1571.9 1260.8C1575.2 1260.8 1578.5 1260.9 1581.9 1260.9C1585.2 1260.9 1588.5 1260.9 1591.9 1260.9C1595.2 1260.9 1598.6 1260.9 1601.9 1260.9C1605.2 1261.0 1608.6 1261.0 1611.9 1261.0C1615.2 1261.0 1618.6 1261.0 1621.9 1261.0C1625.3 1261.0 1628.6 1261.0 1631.9 1261.0C1635.3 1261.0 1638.6 1261.1 1641.9 1261.1C1645.3 1261.1 1648.6 1261.1 1652.0 1261.1C1655.3 1261.1 1658.6 1261.1 1662.0 1261.1C1665.3 1261.1 1668.6 1261.1 1672.0 1261.1C1675.3 1261.2 1678.7 1261.2 1682.0 1261.2C1685.3 1261.2 1688.7 1261.2 1692.0 1261.2"/>
<path class="c-blue" fill="none" stroke="#0a6fe6" stroke-width="5.5" stroke-linejoin="round" stroke-linecap="butt" d="M168.0 1267.0C168.5 1263.7 169.0 1260.4 169.4 1257.1C169.9 1253.8 170.4 1250.5 170.9 1247.2C171.3 1243.9 171.8 1240.6 172.3 1237.3C172.8 1234.0 173.2 1230.6 173.7 1227.3C174.2 1224.0 174.7 1220.7 175.2 1217.4C175.7 1214.1 176.2 1210.8 176.7 1207.5C177.1 1204.2 177.6 1200.9 178.1 1197.6C178.6 1194.3 179.1 1191.0 179.7 1187.7C180.2 1184.4 180.7 1181.1 181.2 1177.8C181.7 1174.5 182.2 1171.2 182.7 1167.9C183.2 1164.6 183.8 1161.3 184.3 1158.0C184.8 1154.7 185.4 1151.4 185.9 1148.1C186.4 1144.8 187.0 1141.5 187.5 1138.2C188.0 1134.9 188.6 1131.6 189.1 1128.4C189.7 1125.1 190.2 1121.8 190.7 1118.5C191.3 1115.2 191.8 1111.9 192.4 1108.6C192.9 1105.3 193.5 1102.0 194.1 1098.7C194.6 1095.4 195.2 1092.1 195.7 1088.8C196.3 1085.5 196.9 1082.3 197.4 1079.0C198.0 1075.7 198.5 1072.4 199.1 1069.1C199.7 1065.8 200.2 1062.5 200.8 1059.2C201.4 1055.9 201.9 1052.6 202.5 1049.3C203.1 1046.0 203.6 1042.8 204.2 1039.5C204.7 1036.2 205.3 1032.9 205.9 1029.6C206.4 1026.3 207.0 1023.0 207.6 1019.7C208.1 1016.4 208.7 1013.1 209.2 1009.8C209.8 1006.6 210.4 1003.3 210.9 1000.0C211.5 996.7 212.1 993.4 212.6 990.1C213.2 986.8 213.7 983.5 214.3 980.2C214.9 976.9 215.4 973.6 216.0 970.3C216.5 967.0 217.1 963.8 217.7 960.5C218.2 957.2 218.8 953.9 219.4 950.6C219.9 947.3 220.5 944.0 221.1 940.7C221.7 937.4 222.2 934.1 222.8 930.9C223.4 927.6 224.0 924.3 224.6 921.0C225.2 917.7 225.8 914.4 226.4 911.1C227.0 907.9 227.6 904.6 228.2 901.3C228.8 898.0 229.4 894.7 230.0 891.4C230.7 888.2 231.3 884.9 231.9 881.6C232.5 878.3 233.2 875.0 233.8 871.8C234.4 868.5 235.1 865.2 235.7 861.9C236.3 858.6 236.9 855.4 237.6 852.1C238.2 848.8 238.8 845.5 239.5 842.3C240.1 839.0 240.7 835.7 241.4 832.4C242.0 829.1 242.6 825.9 243.3 822.6C243.9 819.3 244.5 816.0 245.2 812.7C245.8 809.5 246.5 806.2 247.1 802.9C247.8 799.6 248.4 796.4 249.1 793.1C249.7 789.8 250.4 786.5 251.0 783.3C251.7 780.0 252.4 776.7 253.1 773.5C253.7 770.2 254.4 766.9 255.1 763.7C255.8 760.4 256.6 757.1 257.3 753.9C258.0 750.6 258.8 747.4 259.5 744.1C260.3 740.9 261.1 737.6 261.9 734.4C262.7 731.1 263.6 727.9 264.4 724.7C265.3 721.5 266.2 718.2 267.1 715.0C268.0 711.8 268.9 708.6 269.9 705.4C270.8 702.2 271.8 699.0 272.8 695.8C273.8 692.6 274.8 689.5 275.9 686.3C276.9 683.1 278.0 680.0 279.1 676.8C280.1 673.6 281.2 670.5 282.4 667.3C283.5 664.2 284.7 661.1 285.9 658.0C287.1 654.9 288.3 651.8 289.7 648.7C290.9 645.6 292.3 642.6 294.0 639.7C295.8 636.7 298.0 633.9 300.8 632.4C303.8 630.6 307.3 631.1 310.0 633.4C312.4 635.5 314.0 638.7 315.1 641.9C316.3 645.1 317.0 648.3 317.6 651.6C318.3 654.9 318.9 658.2 319.5 661.4C320.2 664.7 320.7 668.0 321.3 671.3C321.9 674.6 322.5 677.9 323.0 681.2C323.6 684.4 324.2 687.7 324.7 691.0C325.3 694.3 325.8 697.6 326.3 700.9C326.8 704.2 327.3 707.5 327.8 710.8C328.2 714.1 328.6 717.4 329.0 720.8C329.4 724.1 329.8 727.4 330.2 730.7C330.6 734.0 330.9 737.4 331.3 740.7C331.7 744.0 332.0 747.3 332.4 750.6C332.8 753.9 333.2 757.3 333.7 760.6C334.1 763.9 334.5 767.2 334.9 770.5C335.4 773.8 335.8 777.1 336.3 780.4C336.7 783.7 337.2 787.1 337.6 790.4C338.0 793.7 338.5 797.0 338.9 800.3C339.4 803.6 339.8 806.9 340.2 810.2C340.7 813.5 341.1 816.8 341.5 820.2C342.0 823.5 342.4 826.8 342.8 830.1C343.3 833.4 343.7 836.7 344.1 840.0C344.6 843.3 345.0 846.6 345.4 850.0C345.9 853.3 346.3 856.6 346.7 859.9C347.2 863.2 347.6 866.5 348.0 869.8C348.5 873.1 348.9 876.4 349.4 879.7C349.8 883.1 350.3 886.4 350.7 889.7C351.1 893.0 351.6 896.3 352.0 899.6C352.5 902.9 352.9 906.2 353.4 909.5C353.8 912.8 354.3 916.1 354.8 919.5C355.2 922.8 355.7 926.1 356.2 929.4C356.6 932.7 357.1 936.0 357.6 939.3C358.1 942.6 358.6 945.9 359.1 949.2C359.6 952.5 360.2 955.8 360.7 959.1C361.3 962.4 361.8 965.7 362.4 969.0C362.9 972.2 363.5 975.5 364.1 978.8C364.7 982.1 365.4 985.4 366.0 988.7C366.7 991.9 367.3 995.2 368.0 998.5C368.7 1001.7 369.4 1005.0 370.1 1008.3C370.8 1011.5 371.6 1014.8 372.4 1018.0C373.2 1021.3 373.9 1024.5 374.8 1027.8C375.6 1031.0 376.4 1034.2 377.3 1037.5C378.1 1040.7 379.0 1043.9 379.9 1047.1C380.8 1050.3 381.7 1053.5 382.7 1056.7C383.6 1060.0 384.6 1063.1 385.6 1066.3C386.6 1069.5 387.6 1072.7 388.6 1075.9C389.6 1079.1 390.7 1082.2 391.8 1085.4C392.9 1088.5 394.0 1091.7 395.2 1094.8C396.3 1098.0 397.5 1101.1 398.7 1104.2C399.9 1107.3 401.2 1110.4 402.5 1113.5C403.8 1116.5 405.1 1119.6 406.5 1122.6C407.9 1125.7 409.4 1128.7 410.9 1131.7C412.4 1134.6 413.9 1137.6 415.5 1140.5C417.2 1143.4 418.8 1146.3 420.6 1149.2C422.3 1152.0 424.1 1154.8 426.0 1157.6C427.9 1160.3 429.9 1163.0 431.9 1165.7C434.0 1168.3 436.1 1170.9 438.3 1173.4C440.5 1176.0 442.7 1178.4 445.1 1180.8C447.4 1183.2 449.8 1185.5 452.3 1187.7C454.8 1189.9 457.4 1192.0 460.0 1194.1C462.7 1196.1 465.4 1198.1 468.1 1199.9C470.9 1201.8 473.7 1203.6 476.6 1205.3C479.5 1207.0 482.4 1208.6 485.4 1210.2C488.3 1211.7 491.3 1213.1 494.4 1214.5C497.4 1215.9 500.5 1217.2 503.6 1218.5C506.7 1219.7 509.8 1220.9 513.0 1222.0C516.1 1223.1 519.3 1224.2 522.5 1225.2C525.7 1226.2 528.9 1227.1 532.1 1228.0C535.3 1229.0 538.5 1229.8 541.7 1230.6C545.0 1231.5 548.2 1232.2 551.5 1233.0C554.7 1233.7 558.0 1234.4 561.3 1235.1C564.6 1235.8 567.8 1236.4 571.1 1237.0C574.4 1237.6 577.7 1238.2 581.0 1238.7C584.3 1239.3 587.6 1239.8 590.9 1240.3C594.2 1240.8 597.5 1241.3 600.8 1241.8C604.1 1242.2 607.4 1242.7 610.7 1243.1C614.0 1243.5 617.3 1244.0 620.7 1244.3C624.0 1244.7 627.3 1245.1 630.6 1245.5C633.9 1245.9 637.2 1246.2 640.6 1246.5C643.9 1246.9 647.2 1247.2 650.5 1247.5C653.9 1247.8 657.2 1248.2 660.5 1248.4C663.8 1248.7 667.2 1249.0 670.5 1249.3C673.8 1249.6 677.1 1249.8 680.5 1250.1C683.8 1250.3 687.1 1250.6 690.5 1250.8C693.8 1251.1 697.1 1251.3 700.5 1251.5C703.8 1251.8 707.1 1252.0 710.5 1252.2C713.8 1252.4 717.1 1252.6 720.5 1252.8C723.8 1253.0 727.1 1253.2 730.5 1253.4C733.8 1253.6 737.1 1253.8 740.5 1254.0C743.8 1254.1 747.1 1254.3 750.5 1254.5C753.8 1254.6 757.1 1254.8 760.5 1255.0C763.8 1255.1 767.1 1255.3 770.5 1255.4C773.8 1255.6 777.1 1255.7 780.5 1255.9C783.8 1256.0 787.2 1256.2 790.5 1256.3C793.8 1256.4 797.2 1256.6 800.5 1256.7C803.8 1256.8 807.2 1257.0 810.5 1257.1C813.8 1257.2 817.2 1257.3 820.5 1257.4C823.9 1257.5 827.2 1257.7 830.5 1257.8C833.9 1257.9 837.2 1258.0 840.5 1258.1C843.9 1258.2 847.2 1258.3 850.6 1258.4C853.9 1258.5 857.2 1258.6 860.6 1258.7C863.9 1258.7 867.2 1258.8 870.6 1258.9C873.9 1259.0 877.3 1259.1 880.6 1259.2C883.9 1259.3 887.3 1259.3 890.6 1259.4C894.0 1259.5 897.3 1259.6 900.6 1259.6C904.0 1259.7 907.3 1259.8 910.6 1259.9C914.0 1259.9 917.3 1260.0 920.7 1260.1C924.0 1260.1 927.3 1260.2 930.7 1260.3C934.0 1260.3 937.4 1260.4 940.7 1260.4C944.0 1260.5 947.4 1260.5 950.7 1260.6C954.0 1260.7 957.4 1260.7 960.7 1260.8C964.1 1260.8 967.4 1260.9 970.7 1260.9C974.1 1261.0 977.4 1261.0 980.8 1261.1C984.1 1261.1 987.4 1261.1 990.8 1261.2C994.1 1261.2 997.5 1261.3 1000.8 1261.3C1004.1 1261.4 1007.5 1261.4 1010.8 1261.4C1014.1 1261.5 1017.5 1261.5 1020.8 1261.6C1024.2 1261.6 1027.5 1261.6 1030.8 1261.7C1034.2 1261.7 1037.5 1261.7 1040.9 1261.8C1044.2 1261.8 1047.5 1261.8 1050.9 1261.9C1054.2 1261.9 1057.6 1261.9 1060.9 1261.9C1064.2 1262.0 1067.6 1262.0 1070.9 1262.0C1074.3 1262.1 1077.6 1262.1 1080.9 1262.1C1084.3 1262.1 1087.6 1262.2 1090.9 1262.2C1094.3 1262.2 1097.6 1262.2 1101.0 1262.3C1104.3 1262.3 1107.6 1262.3 1111.0 1262.3C1114.3 1262.3 1117.7 1262.4 1121.0 1262.4C1124.3 1262.4 1127.7 1262.4 1131.0 1262.4C1134.4 1262.5 1137.7 1262.5 1141.0 1262.5C1144.4 1262.5 1147.7 1262.5 1151.1 1262.5C1154.4 1262.6 1157.7 1262.6 1161.1 1262.6C1164.4 1262.6 1167.7 1262.6 1171.1 1262.6C1174.4 1262.6 1177.8 1262.7 1181.1 1262.7C1184.4 1262.7 1187.8 1262.7 1191.1 1262.7C1194.5 1262.7 1197.8 1262.7 1201.1 1262.7C1204.5 1262.8 1207.8 1262.8 1211.2 1262.8C1214.5 1262.8 1217.8 1262.8 1221.2 1262.8C1224.5 1262.8 1227.9 1262.8 1231.2 1262.8C1234.5 1262.8 1237.9 1262.9 1241.2 1262.9C1244.5 1262.9 1247.9 1262.9 1251.2 1262.9C1254.6 1262.9 1257.9 1262.9 1261.2 1262.9C1264.6 1262.9 1267.9 1262.9 1271.3 1262.9C1274.6 1262.9 1277.9 1263.0 1281.3 1263.0C1284.6 1263.0 1288.0 1263.0 1291.3 1263.0C1294.6 1263.0 1298.0 1263.0 1301.3 1263.0C1304.7 1263.0 1308.0 1263.0 1311.3 1263.0C1314.7 1263.0 1318.0 1263.0 1321.3 1263.1C1324.7 1263.1 1328.0 1263.1 1331.4 1263.1C1334.7 1263.1 1338.0 1263.1 1341.4 1263.1C1344.7 1263.1 1348.1 1263.1 1351.4 1263.1C1354.7 1263.1 1358.1 1263.1 1361.4 1263.2C1364.8 1263.2 1368.1 1263.2 1371.4 1263.2C1374.8 1263.2 1378.1 1263.2 1381.5 1263.2C1384.8 1263.2 1388.1 1263.2 1391.5 1263.2C1394.8 1263.2 1398.2 1263.2 1401.5 1263.3C1404.8 1263.3 1408.2 1263.3 1411.5 1263.3C1414.8 1263.3 1418.2 1263.3 1421.5 1263.3C1424.9 1263.3 1428.2 1263.3 1431.5 1263.3C1434.9 1263.3 1438.2 1263.3 1441.6 1263.4C1444.9 1263.4 1448.2 1263.4 1451.6 1263.4C1454.9 1263.4 1458.3 1263.4 1461.6 1263.4C1464.9 1263.4 1468.3 1263.4 1471.6 1263.4C1475.0 1263.4 1478.3 1263.4 1481.6 1263.5C1485.0 1263.5 1488.3 1263.5 1491.6 1263.5C1495.0 1263.5 1498.3 1263.5 1501.7 1263.5C1505.0 1263.5 1508.3 1263.5 1511.7 1263.5C1515.0 1263.5 1518.4 1263.5 1521.7 1263.6C1525.0 1263.6 1528.4 1263.6 1531.7 1263.6C1535.1 1263.6 1538.4 1263.6 1541.7 1263.6C1545.1 1263.6 1548.4 1263.6 1551.8 1263.6C1555.1 1263.6 1558.4 1263.7 1561.8 1263.7C1565.1 1263.7 1568.4 1263.7 1571.8 1263.7C1575.1 1263.7 1578.5 1263.7 1581.8 1263.7C1585.1 1263.7 1588.5 1263.7 1591.8 1263.7C1595.2 1263.7 1598.5 1263.8 1601.8 1263.8C1605.2 1263.8 1608.5 1263.8 1611.9 1263.8C1615.2 1263.8 1618.5 1263.8 1621.9 1263.8C1625.2 1263.8 1628.6 1263.8 1631.9 1263.8C1635.2 1263.9 1638.6 1263.9 1641.9 1263.9C1645.3 1263.9 1648.6 1263.9 1651.9 1263.9C1655.3 1263.9 1658.6 1263.9 1661.9 1263.9C1665.3 1263.9 1668.6 1263.9 1672.0 1263.9C1675.3 1264.0 1678.6 1264.0 1682.0 1264.0C1685.3 1264.0 1688.7 1264.0 1692.0 1264.0"/>
<path class="c-green" fill="none" stroke="#00b264" stroke-width="5.5" stroke-linejoin="round" stroke-linecap="butt" stroke-dasharray="25.9 31.1 31.4 31.1 31.4 31.1 31.4 31.1 31.4 31.1 31.4 31.1 31.4 31.1 31.4 31.1 31.4 31.1 31.4 31.1 31.4 31.1 31.4 31.1 31.4 31.1 31.4 31.1 31.4 31.1 31.4 31.1 31.4 31.1 31.4 30.9 31.4 29.9 31.4 31.9 31.4 33.2 31.4 30.9 31.4 31.7 31.4 30.7 31.4 31.3 31.4 30.9 31.4 30.7 31.4 31.3 31.4 30.7 31.4 31.1 31.4 33.3 31.4 28.1 31.4 29.7 31.4 29.5 31.4 28.4 31.4 27.1 31.4 32.5 31.4 32.1 31.4 31.5 31.4 31.3 31.4 31.8 31.4 31.3 31.4 30.5 31.4 31.1 31.4 30.9 31.4 31.3 31.4 29.3 31.4 32.2 31.4 31.0 57.3 28.2 36.6 28.7 30.3 32.8 30.3 78.7" d="M168.0 1267.0C168.5 1263.7 168.9 1260.4 169.4 1257.1C169.9 1253.8 170.4 1250.5 170.9 1247.2C171.3 1243.9 171.8 1240.6 172.3 1237.3C172.8 1234.0 173.2 1230.7 173.7 1227.4C174.2 1224.1 174.7 1220.8 175.2 1217.5C175.7 1214.2 176.2 1210.9 176.6 1207.6C177.1 1204.3 177.6 1201.0 178.1 1197.7C178.6 1194.4 179.1 1191.1 179.6 1187.8C180.1 1184.5 180.7 1181.2 181.2 1177.9C181.7 1174.6 182.2 1171.3 182.7 1168.0C183.2 1164.7 183.8 1161.4 184.3 1158.1C184.8 1154.8 185.4 1151.5 185.9 1148.2C186.4 1144.9 187.0 1141.6 187.5 1138.4C188.0 1135.1 188.6 1131.8 189.1 1128.5C189.7 1125.2 190.2 1121.9 190.8 1118.6C191.3 1115.3 191.9 1112.0 192.4 1108.7C193.0 1105.4 193.5 1102.2 194.1 1098.9C194.7 1095.6 195.2 1092.3 195.8 1089.0C196.3 1085.7 196.9 1082.4 197.5 1079.1C198.0 1075.8 198.6 1072.6 199.2 1069.3C199.7 1066.0 200.3 1062.7 200.9 1059.4C201.4 1056.1 202.0 1052.8 202.5 1049.5C203.1 1046.2 203.7 1043.0 204.2 1039.7C204.8 1036.4 205.3 1033.1 205.9 1029.8C206.4 1026.5 207.0 1023.2 207.5 1019.9C208.1 1016.6 208.6 1013.3 209.1 1010.0C209.7 1006.8 210.2 1003.5 210.7 1000.2C211.3 996.9 211.8 993.6 212.3 990.3C212.8 987.0 213.3 983.7 213.8 980.4C214.3 977.1 214.8 973.8 215.3 970.5C215.8 967.2 216.3 963.9 216.8 960.6C217.3 957.3 217.8 954.0 218.3 950.7C218.8 947.4 219.2 944.1 219.7 940.8C220.2 937.5 220.7 934.2 221.2 930.9C221.7 927.6 222.1 924.3 222.6 921.0C223.1 917.7 223.6 914.4 224.1 911.1C224.6 907.8 225.1 904.5 225.6 901.2C226.1 897.9 226.6 894.6 227.1 891.3C227.6 888.0 228.1 884.7 228.6 881.4C229.1 878.1 229.6 874.8 230.1 871.5C230.6 868.2 231.1 864.9 231.6 861.6C232.1 858.3 232.7 855.0 233.2 851.7C233.7 848.4 234.2 845.1 234.7 841.8C235.2 838.5 235.8 835.2 236.3 831.9C236.8 828.6 237.3 825.3 237.8 822.1C238.4 818.8 238.9 815.5 239.4 812.2C240.0 808.9 240.5 805.6 241.0 802.3C241.6 799.0 242.1 795.7 242.6 792.4C243.2 789.1 243.7 785.8 244.3 782.5C244.8 779.2 245.4 775.9 245.9 772.7C246.5 769.4 247.0 766.1 247.6 762.8C248.1 759.5 248.7 756.2 249.3 752.9C249.9 749.6 250.4 746.4 251.0 743.1C251.6 739.8 252.2 736.5 252.7 733.2C253.3 729.9 253.9 726.6 254.5 723.4C255.1 720.1 255.7 716.8 256.3 713.5C256.9 710.2 257.5 706.9 258.1 703.7C258.7 700.4 259.3 697.1 259.9 693.8C260.6 690.5 261.2 687.3 261.8 684.0C262.4 680.7 263.1 677.4 263.7 674.2C264.3 670.9 265.0 667.6 265.6 664.3C266.2 661.1 266.9 657.8 267.5 654.5C268.2 651.2 268.8 648.0 269.5 644.7C270.1 641.4 270.8 638.2 271.4 634.9C272.1 631.6 272.8 628.3 273.4 625.1C274.1 621.8 274.7 618.5 275.4 615.3C276.0 612.0 276.6 608.7 277.3 605.4C277.9 602.2 278.6 598.9 279.2 595.6C279.8 592.3 280.5 589.1 281.1 585.8C281.7 582.5 282.3 579.2 283.0 575.9C283.6 572.7 284.2 569.4 284.8 566.1C285.5 562.8 286.1 559.6 286.7 556.3C287.3 553.0 287.9 549.7 288.5 546.4C289.2 543.2 289.8 539.9 290.4 536.6C291.0 533.3 291.6 530.0 292.2 526.8C292.8 523.5 293.4 520.2 294.0 516.9C294.6 513.6 295.2 510.4 295.9 507.1C296.5 503.8 297.1 500.5 297.7 497.2C298.3 494.0 298.9 490.7 299.5 487.4C300.1 484.1 300.7 480.8 301.4 477.6C302.0 474.3 302.6 471.0 303.2 467.7C303.8 464.4 304.5 461.2 305.1 457.9C305.7 454.6 306.4 451.3 307.0 448.1C307.7 444.8 308.3 441.5 309.0 438.2C309.6 435.0 310.3 431.7 310.9 428.4C311.6 425.2 312.3 421.9 312.9 418.6C313.6 415.4 314.3 412.1 315.0 408.8C315.7 405.6 316.4 402.3 317.1 399.0C317.8 395.8 318.5 392.5 319.2 389.3C319.9 386.0 320.7 382.8 321.4 379.5C322.1 376.2 322.9 373.0 323.6 369.7C324.4 366.5 325.1 363.2 325.9 360.0C326.7 356.7 327.5 353.5 328.2 350.3C329.0 347.0 329.8 343.8 330.6 340.5C331.4 337.3 332.2 334.1 333.0 330.8C333.8 327.6 334.6 324.3 335.4 321.1C336.2 317.9 337.0 314.6 337.7 311.4C338.5 308.1 339.3 304.9 340.1 301.6C340.8 298.4 341.6 295.1 342.4 291.9C343.1 288.6 343.9 285.4 344.6 282.1C345.4 278.9 346.1 275.6 346.9 272.4C347.6 269.1 348.4 265.9 349.2 262.6C349.9 259.4 350.7 256.1 351.5 252.9C352.3 249.7 353.1 246.4 353.9 243.2C354.7 239.9 355.5 236.7 356.3 233.5C357.1 230.2 357.9 227.0 358.8 223.8C359.6 220.5 360.4 217.3 361.3 214.1C362.1 210.9 363.0 207.6 363.9 204.4C364.7 201.2 365.6 198.0 366.5 194.8C367.4 191.5 368.3 188.3 369.2 185.1C370.1 181.9 371.0 178.7 372.0 175.5C372.9 172.3 373.9 169.1 374.8 165.9C375.8 162.7 376.7 159.5 377.7 156.3C378.7 153.2 379.8 150.0 380.9 146.8C381.9 143.7 383.1 140.5 384.3 137.4C385.5 134.3 386.7 131.2 388.0 128.1C389.3 125.1 390.7 122.0 392.0 118.9C393.3 115.9 394.7 112.8 396.0 109.8C397.3 106.7 398.6 103.7 400.0 100.6C401.3 97.5 402.6 94.5 404.0 91.4C405.3 88.4 406.7 85.4 408.3 82.4C409.7 79.4 411.3 76.4 413.2 73.7C415.1 70.9 417.4 68.4 420.2 66.6C423.2 64.8 426.6 63.9 429.8 64.8C432.8 65.7 435.6 67.9 437.8 70.6C439.8 73.2 441.3 76.2 442.6 79.3C443.9 82.5 445.0 85.6 446.0 88.7C447.1 91.9 447.9 95.1 448.7 98.4C449.5 101.6 450.2 104.9 450.8 108.2C451.4 111.4 451.9 114.7 452.4 118.0C452.9 121.3 453.4 124.6 453.8 127.9C454.3 131.2 454.8 134.5 455.2 137.9C455.7 141.2 456.2 144.5 456.6 147.8C457.0 151.1 457.5 154.4 457.9 157.7C458.3 161.0 458.7 164.3 459.1 167.6C459.5 170.9 459.8 174.3 460.2 177.6C460.6 180.9 460.9 184.2 461.3 187.5C461.7 190.8 462.0 194.2 462.4 197.5C462.7 200.8 463.1 204.1 463.4 207.4C463.8 210.8 464.1 214.1 464.5 217.4C464.9 220.7 465.2 224.0 465.6 227.3C465.9 230.7 466.3 234.0 466.6 237.3C467.0 240.6 467.4 243.9 467.7 247.2C468.1 250.6 468.5 253.9 468.9 257.2C469.2 260.5 469.6 263.8 470.0 267.1C470.4 270.4 470.7 273.8 471.1 277.1C471.5 280.4 471.9 283.7 472.3 287.0C472.7 290.3 473.1 293.6 473.4 297.0C473.8 300.3 474.2 303.6 474.6 306.9C475.0 310.2 475.4 313.5 475.8 316.8C476.2 320.2 476.6 323.5 477.0 326.8C477.3 330.1 477.7 333.4 478.1 336.7C478.5 340.0 478.9 343.3 479.3 346.7C479.7 350.0 480.1 353.3 480.5 356.6C480.9 359.9 481.3 363.2 481.7 366.5C482.1 369.9 482.5 373.2 482.9 376.5C483.2 379.8 483.6 383.1 484.0 386.4C484.4 389.7 484.8 393.0 485.2 396.4C485.7 399.7 486.1 403.0 486.5 406.3C486.9 409.6 487.3 412.9 487.7 416.2C488.1 419.5 488.5 422.8 488.9 426.2C489.3 429.5 489.7 432.8 490.1 436.1C490.6 439.4 491.0 442.7 491.4 446.0C491.8 449.3 492.3 452.6 492.7 455.9C493.1 459.2 493.6 462.6 494.0 465.9C494.5 469.2 494.9 472.5 495.4 475.8C495.8 479.1 496.3 482.4 496.8 485.7C497.2 489.0 497.7 492.3 498.2 495.6C498.6 498.9 499.1 502.2 499.6 505.5C500.1 508.8 500.6 512.1 501.1 515.4C501.6 518.7 502.1 522.0 502.6 525.3C503.1 528.6 503.7 531.9 504.2 535.2C504.7 538.5 505.2 541.8 505.7 545.1C506.2 548.4 506.8 551.7 507.3 555.0C507.8 558.3 508.4 561.5 508.9 564.8C509.4 568.1 510.0 571.4 510.5 574.7C511.1 578.0 511.6 581.3 512.2 584.6C512.7 587.9 513.3 591.2 513.8 594.5C514.4 597.7 515.0 601.0 515.6 604.3C516.2 607.6 516.7 610.9 517.3 614.2C517.9 617.5 518.5 620.7 519.1 624.0C519.7 627.3 520.4 630.6 521.0 633.9C521.6 637.1 522.2 640.4 522.9 643.7C523.5 647.0 524.1 650.2 524.8 653.5C525.4 656.8 526.1 660.0 526.8 663.3C527.4 666.6 528.1 669.9 528.8 673.1C529.4 676.4 530.1 679.7 530.8 682.9C531.5 686.2 532.2 689.5 532.9 692.7C533.6 696.0 534.3 699.2 535.0 702.5C535.8 705.7 536.5 709.0 537.2 712.3C538.0 715.5 538.7 718.8 539.5 722.0C540.2 725.3 541.0 728.5 541.8 731.8C542.5 735.0 543.3 738.2 544.1 741.5C544.9 744.7 545.8 748.0 546.6 751.2C547.4 754.4 548.2 757.6 549.1 760.9C550.0 764.1 550.8 767.3 551.7 770.5C552.6 773.8 553.5 777.0 554.4 780.2C555.3 783.4 556.2 786.6 557.1 789.8C558.1 793.0 559.0 796.2 560.0 799.4C560.9 802.6 561.9 805.8 562.9 809.0C563.8 812.2 564.8 815.4 565.9 818.5C566.9 821.7 567.9 824.9 568.9 828.1C570.0 831.2 571.0 834.4 572.1 837.6C573.2 840.7 574.2 843.9 575.3 847.0C576.4 850.2 577.6 853.3 578.7 856.5C579.8 859.6 580.9 862.7 582.1 865.9C583.3 869.0 584.4 872.1 585.6 875.2C586.8 878.3 588.0 881.5 589.3 884.6C590.5 887.7 591.7 890.8 593.0 893.8C594.3 896.9 595.5 900.0 596.8 903.1C598.1 906.2 599.5 909.2 600.8 912.3C602.1 915.3 603.5 918.4 604.9 921.4C606.3 924.4 607.7 927.5 609.1 930.5C610.6 933.5 612.0 936.5 613.5 939.5C615.0 942.5 616.5 945.5 618.0 948.4C619.5 951.4 621.1 954.4 622.6 957.3C624.2 960.2 625.8 963.2 627.4 966.1C629.1 969.0 630.7 971.9 632.4 974.8C634.1 977.6 635.8 980.5 637.6 983.4C639.3 986.2 641.1 989.0 642.9 991.8C644.7 994.6 646.5 997.4 648.4 1000.2C650.3 1002.9 652.2 1005.7 654.1 1008.4C656.1 1011.1 658.0 1013.8 660.0 1016.5C662.0 1019.1 664.0 1021.8 666.1 1024.4C668.2 1027.0 670.3 1029.6 672.4 1032.2C674.5 1034.8 676.6 1037.4 678.8 1039.9C681.0 1042.4 683.2 1044.9 685.4 1047.4C687.7 1049.9 689.9 1052.3 692.2 1054.8C694.5 1057.2 696.8 1059.6 699.2 1061.9C701.5 1064.3 703.9 1066.6 706.3 1068.9C708.7 1071.3 711.2 1073.5 713.7 1075.8C716.1 1078.0 718.6 1080.2 721.1 1082.4C723.7 1084.6 726.2 1086.7 728.8 1088.9C731.4 1091.0 734.0 1093.1 736.6 1095.1C739.2 1097.2 741.9 1099.2 744.6 1101.2C747.2 1103.2 749.9 1105.1 752.7 1107.1C755.4 1109.0 758.1 1110.9 760.9 1112.8C763.7 1114.6 766.5 1116.5 769.3 1118.3C772.1 1120.1 774.9 1121.8 777.7 1123.6C780.6 1125.3 783.5 1127.0 786.4 1128.7C789.2 1130.3 792.2 1132.0 795.1 1133.6C798.0 1135.2 800.9 1136.8 803.9 1138.3C806.9 1139.8 809.8 1141.3 812.8 1142.8C815.8 1144.3 818.8 1145.7 821.9 1147.1C824.9 1148.5 827.9 1149.9 831.0 1151.3C834.0 1152.6 837.1 1153.9 840.2 1155.2C843.3 1156.5 846.4 1157.8 849.5 1159.0C852.6 1160.2 855.7 1161.4 858.8 1162.6C861.9 1163.8 865.0 1164.9 868.2 1166.0C871.3 1167.2 874.5 1168.3 877.6 1169.3C880.8 1170.4 884.0 1171.5 887.1 1172.5C890.3 1173.5 893.5 1174.5 896.7 1175.5C899.9 1176.5 903.1 1177.4 906.3 1178.4C909.5 1179.3 912.7 1180.3 915.9 1181.2C919.1 1182.1 922.3 1182.9 925.5 1183.8C928.8 1184.7 932.0 1185.5 935.2 1186.3C938.5 1187.2 941.7 1188.0 944.9 1188.8C948.2 1189.5 951.4 1190.3 954.7 1191.1C957.9 1191.8 961.2 1192.6 964.4 1193.3C967.7 1194.1 970.9 1194.8 974.2 1195.5C977.5 1196.2 980.7 1196.9 984.0 1197.6C987.3 1198.2 990.5 1198.9 993.8 1199.6C997.1 1200.2 1000.3 1200.9 1003.6 1201.5C1006.9 1202.1 1010.2 1202.7 1013.5 1203.3C1016.7 1203.9 1020.0 1204.5 1023.3 1205.1C1026.6 1205.7 1029.9 1206.2 1033.2 1206.8C1036.5 1207.3 1039.8 1207.9 1043.1 1208.4C1046.3 1208.9 1049.6 1209.4 1052.9 1209.9C1056.2 1210.4 1059.5 1210.9 1062.9 1211.3C1066.2 1211.8 1069.5 1212.3 1072.8 1212.7C1076.1 1213.2 1079.4 1213.6 1082.7 1214.0C1086.0 1214.5 1089.3 1214.9 1092.6 1215.3C1095.9 1215.7 1099.2 1216.1 1102.5 1216.5C1105.9 1216.9 1109.2 1217.3 1112.5 1217.7C1115.8 1218.1 1119.1 1218.5 1122.4 1218.9C1125.7 1219.2 1129.1 1219.6 1132.4 1220.0C1135.7 1220.3 1139.0 1220.7 1142.3 1221.0C1145.6 1221.4 1149.0 1221.8 1152.3 1222.1C1155.6 1222.4 1158.9 1222.8 1162.2 1223.1C1165.6 1223.5 1168.9 1223.8 1172.2 1224.1C1175.5 1224.4 1178.8 1224.8 1182.2 1225.1C1185.5 1225.4 1188.8 1225.7 1192.1 1226.0C1195.5 1226.3 1198.8 1226.6 1202.1 1226.9C1205.4 1227.1 1208.8 1227.4 1212.1 1227.7C1215.4 1228.0 1218.7 1228.2 1222.1 1228.5C1225.4 1228.7 1228.7 1229.0 1232.0 1229.3C1235.4 1229.5 1238.7 1229.8 1242.0 1230.0C1245.3 1230.2 1248.7 1230.5 1252.0 1230.7C1255.3 1230.9 1258.7 1231.2 1262.0 1231.4C1265.3 1231.6 1268.6 1231.8 1272.0 1232.1C1275.3 1232.3 1278.6 1232.5 1282.0 1232.7C1285.3 1232.9 1288.6 1233.1 1291.9 1233.3C1295.3 1233.6 1298.6 1233.8 1301.9 1234.0C1305.3 1234.2 1308.6 1234.4 1311.9 1234.6C1315.3 1234.8 1318.6 1235.0 1321.9 1235.2C1325.3 1235.4 1328.6 1235.6 1331.9 1235.7C1335.2 1235.9 1338.6 1236.1 1341.9 1236.3C1345.2 1236.5 1348.6 1236.7 1351.9 1236.8C1355.2 1237.0 1358.6 1237.2 1361.9 1237.4C1365.2 1237.5 1368.6 1237.7 1371.9 1237.9C1375.2 1238.0 1378.6 1238.2 1381.9 1238.3C1385.2 1238.5 1388.6 1238.7 1391.9 1238.8C1395.2 1239.0 1398.6 1239.1 1401.9 1239.3C1405.2 1239.4 1408.6 1239.6 1411.9 1239.7C1415.2 1239.9 1418.6 1240.0 1421.9 1240.2C1425.2 1240.3 1428.6 1240.5 1431.9 1240.6C1435.2 1240.8 1438.6 1240.9 1441.9 1241.0C1445.2 1241.2 1448.6 1241.3 1451.9 1241.5C1455.2 1241.6 1458.6 1241.8 1461.9 1241.9C1465.2 1242.0 1468.6 1242.2 1471.9 1242.3C1475.2 1242.4 1478.6 1242.6 1481.9 1242.7C1485.2 1242.8 1488.6 1243.0 1491.9 1243.1C1495.2 1243.2 1498.6 1243.4 1501.9 1243.5C1505.2 1243.6 1508.6 1243.7 1511.9 1243.8C1515.2 1244.0 1518.6 1244.1 1521.9 1244.2C1525.2 1244.3 1528.6 1244.4 1531.9 1244.5C1535.2 1244.6 1538.6 1244.7 1541.9 1244.8C1545.2 1244.9 1548.6 1245.0 1551.9 1245.1C1555.2 1245.2 1558.6 1245.3 1561.9 1245.4C1565.3 1245.5 1568.6 1245.6 1571.9 1245.7C1575.3 1245.8 1578.6 1245.9 1581.9 1245.9C1585.3 1246.0 1588.6 1246.1 1591.9 1246.2C1595.3 1246.3 1598.6 1246.4 1601.9 1246.5C1605.3 1246.5 1608.6 1246.6 1611.9 1246.7C1615.3 1246.8 1618.6 1246.9 1622.0 1246.9C1625.3 1247.0 1628.6 1247.1 1632.0 1247.2C1635.3 1247.2 1638.6 1247.3 1642.0 1247.4C1645.3 1247.5 1648.6 1247.6 1652.0 1247.6C1655.3 1247.7 1658.6 1247.8 1662.0 1247.8C1665.3 1247.9 1668.7 1248.0 1672.0 1248.1C1675.3 1248.1 1678.7 1248.2 1682.0 1248.3C1685.3 1248.4 1688.7 1248.4 1692.0 1248.5"/>
<path class="c-purple" fill="none" stroke="#c377e8" stroke-width="5.5" stroke-linejoin="round" stroke-linecap="butt" stroke-dasharray="25.9 31.0 31.4 31.0 31.4 31.0 31.4 31.0 31.4 31.0 31.4 31.0 31.4 31.0 31.4 31.0 31.4 31.0 31.4 31.0 31.4 31.0 31.4 31.0 31.4 31.0 31.4 32.7 31.4 30.8 31.4 30.8 31.4 31.2 31.4 31.2 31.4 30.9 31.4 31.2 31.4 30.5 31.4 31.1 31.4 30.1 31.4 31.3 31.4 30.5 31.4 33.5 31.4 32.1 31.4 31.6 31.4 30.8 31.4 30.5 31.4 30.6 31.4 31.5 31.4 31.4 31.4 30.2 31.4 31.1 31.4 31.1 31.4 30.6 31.4 31.4 31.4 30.2 30.5 50.0" d="M168.0 1267.0C168.5 1263.7 168.9 1260.4 169.4 1257.1C169.9 1253.8 170.4 1250.5 170.9 1247.2C171.3 1243.9 171.8 1240.6 172.3 1237.3C172.8 1234.0 173.2 1230.7 173.7 1227.4C174.2 1224.1 174.7 1220.8 175.2 1217.5C175.7 1214.2 176.2 1210.9 176.6 1207.6C177.1 1204.3 177.6 1201.0 178.1 1197.7C178.6 1194.4 179.1 1191.1 179.6 1187.8C180.1 1184.5 180.7 1181.2 181.2 1177.9C181.7 1174.6 182.2 1171.3 182.7 1168.0C183.2 1164.7 183.8 1161.4 184.3 1158.1C184.8 1154.8 185.3 1151.5 185.9 1148.3C186.4 1145.0 186.9 1141.7 187.5 1138.4C188.0 1135.1 188.6 1131.8 189.1 1128.5C189.7 1125.2 190.2 1121.9 190.8 1118.6C191.3 1115.3 191.9 1112.1 192.4 1108.8C193.0 1105.5 193.5 1102.2 194.1 1098.9C194.6 1095.6 195.2 1092.3 195.8 1089.0C196.3 1085.7 196.9 1082.5 197.4 1079.2C198.0 1075.9 198.6 1072.6 199.1 1069.3C199.7 1066.0 200.3 1062.7 200.8 1059.4C201.4 1056.2 201.9 1052.9 202.5 1049.6C203.1 1046.3 203.6 1043.0 204.2 1039.7C204.7 1036.4 205.3 1033.1 205.9 1029.8C206.4 1026.6 207.0 1023.3 207.5 1020.0C208.0 1016.7 208.6 1013.4 209.1 1010.1C209.7 1006.8 210.2 1003.5 210.7 1000.2C211.3 996.9 211.8 993.6 212.3 990.3C212.8 987.1 213.4 983.8 213.9 980.5C214.4 977.2 214.9 973.9 215.4 970.6C215.9 967.3 216.5 964.0 217.0 960.7C217.5 957.4 218.0 954.1 218.5 950.8C219.0 947.5 219.5 944.2 220.0 940.9C220.5 937.6 221.1 934.3 221.6 931.0C222.1 927.7 222.6 924.4 223.1 921.1C223.7 917.8 224.2 914.5 224.7 911.3C225.2 908.0 225.8 904.7 226.3 901.4C226.9 898.1 227.4 894.8 228.0 891.5C228.5 888.2 229.1 884.9 229.6 881.6C230.2 878.3 230.8 875.1 231.3 871.8C231.9 868.5 232.5 865.2 233.0 861.9C233.6 858.6 234.2 855.3 234.8 852.1C235.3 848.8 235.9 845.5 236.5 842.2C237.1 838.9 237.7 835.6 238.3 832.4C238.8 829.1 239.4 825.8 240.0 822.5C240.6 819.2 241.2 815.9 241.8 812.7C242.4 809.4 243.0 806.1 243.6 802.8C244.2 799.5 244.8 796.2 245.4 793.0C246.0 789.7 246.6 786.4 247.2 783.1C247.8 779.8 248.4 776.6 249.0 773.3C249.6 770.0 250.2 766.7 250.9 763.4C251.5 760.2 252.1 756.9 252.7 753.6C253.4 750.3 254.0 747.1 254.7 743.8C255.3 740.5 256.0 737.3 256.6 734.0C257.3 730.7 258.0 727.5 258.7 724.2C259.3 720.9 260.0 717.7 260.7 714.4C261.4 711.1 262.2 707.9 262.9 704.6C263.6 701.4 264.3 698.1 265.1 694.9C265.8 691.6 266.5 688.4 267.3 685.1C268.0 681.9 268.8 678.6 269.6 675.4C270.3 672.1 271.1 668.9 271.8 665.6C272.6 662.4 273.3 659.1 274.1 655.9C274.9 652.6 275.6 649.4 276.4 646.1C277.1 642.9 277.9 639.6 278.6 636.4C279.4 633.1 280.1 629.9 280.8 626.6C281.6 623.3 282.3 620.1 283.0 616.8C283.7 613.6 284.4 610.3 285.1 607.1C285.8 603.8 286.5 600.5 287.2 597.3C287.9 594.0 288.6 590.7 289.3 587.5C290.0 584.2 290.6 581.0 291.3 577.7C292.0 574.4 292.7 571.2 293.4 567.9C294.1 564.6 294.8 561.4 295.6 558.1C296.3 554.9 297.1 551.6 297.9 548.4C298.7 545.2 299.6 541.9 300.5 538.7C301.4 535.5 302.5 532.4 303.6 529.2C304.7 526.1 305.9 523.0 307.2 519.9C308.5 516.8 309.7 513.7 310.9 510.6C312.1 507.5 313.3 504.4 314.3 501.2C315.3 498.0 316.3 494.8 317.3 491.6C318.3 488.4 319.3 485.3 320.5 482.1C321.6 479.0 323.0 476.0 324.5 473.0C326.0 470.1 327.6 467.2 329.2 464.2C330.8 461.2 332.2 458.1 333.9 455.3C335.7 452.4 338.0 449.8 340.8 448.3C343.9 446.7 347.5 446.7 350.4 448.5C353.0 450.2 355.0 453.2 356.6 456.2C358.1 459.2 359.2 462.4 360.1 465.6C361.1 468.8 362.0 472.0 362.8 475.2C363.5 478.5 364.2 481.8 364.8 485.0C365.4 488.3 365.9 491.6 366.4 494.9C366.8 498.2 367.3 501.5 367.7 504.8C368.2 508.1 368.6 511.4 369.1 514.7C369.5 518.0 370.0 521.3 370.5 524.6C371.0 527.9 371.5 531.2 372.1 534.5C372.7 537.8 373.3 541.1 373.8 544.4C374.4 547.7 375.0 550.9 375.6 554.2C376.1 557.5 376.7 560.8 377.2 564.1C377.7 567.4 378.2 570.7 378.6 574.0C379.1 577.3 379.5 580.6 380.0 583.9C380.4 587.2 380.8 590.5 381.3 593.8C381.7 597.2 382.1 600.5 382.5 603.8C382.9 607.1 383.3 610.4 383.7 613.7C384.1 617.0 384.6 620.3 385.0 623.6C385.4 626.9 385.8 630.3 386.2 633.6C386.6 636.9 387.0 640.2 387.4 643.5C387.9 646.8 388.3 650.1 388.7 653.4C389.1 656.7 389.6 660.0 390.0 663.3C390.4 666.7 390.9 670.0 391.3 673.3C391.7 676.6 392.2 679.9 392.6 683.2C393.0 686.5 393.5 689.8 393.9 693.1C394.3 696.4 394.8 699.7 395.2 703.0C395.7 706.3 396.1 709.6 396.6 712.9C397.0 716.3 397.5 719.6 397.9 722.9C398.4 726.2 398.8 729.5 399.3 732.8C399.8 736.1 400.2 739.4 400.7 742.7C401.2 746.0 401.7 749.3 402.2 752.6C402.6 755.9 403.1 759.2 403.7 762.5C404.2 765.8 404.7 769.1 405.2 772.4C405.7 775.7 406.2 779.0 406.8 782.3C407.3 785.5 407.8 788.8 408.4 792.1C408.9 795.4 409.4 798.7 410.0 802.0C410.5 805.3 411.1 808.6 411.6 811.9C412.2 815.2 412.7 818.5 413.3 821.7C413.9 825.0 414.4 828.3 415.0 831.6C415.6 834.9 416.2 838.2 416.8 841.4C417.4 844.7 418.0 848.0 418.6 851.3C419.2 854.6 419.8 857.9 420.4 861.1C421.1 864.4 421.7 867.7 422.3 871.0C423.0 874.2 423.6 877.5 424.3 880.8C424.9 884.0 425.6 887.3 426.3 890.6C427.0 893.8 427.6 897.1 428.3 900.4C429.0 903.6 429.7 906.9 430.4 910.1C431.2 913.4 431.9 916.7 432.6 919.9C433.3 923.2 434.1 926.4 434.8 929.7C435.6 932.9 436.4 936.2 437.1 939.4C437.9 942.7 438.7 945.9 439.5 949.1C440.3 952.4 441.2 955.6 442.0 958.8C442.9 962.0 443.7 965.3 444.6 968.5C445.5 971.7 446.4 974.9 447.3 978.1C448.3 981.3 449.2 984.5 450.2 987.7C451.2 990.9 452.2 994.1 453.2 997.3C454.2 1000.4 455.3 1003.6 456.3 1006.8C457.4 1009.9 458.5 1013.1 459.7 1016.2C460.8 1019.3 461.9 1022.5 463.1 1025.6C464.3 1028.7 465.5 1031.8 466.8 1034.9C468.0 1038.0 469.3 1041.1 470.6 1044.1C471.9 1047.2 473.2 1050.3 474.6 1053.3C476.0 1056.4 477.4 1059.4 478.8 1062.4C480.3 1065.4 481.8 1068.4 483.3 1071.3C484.8 1074.3 486.4 1077.3 488.0 1080.2C489.6 1083.1 491.2 1086.0 492.9 1088.9C494.6 1091.8 496.4 1094.6 498.2 1097.4C499.9 1100.2 501.8 1103.0 503.7 1105.8C505.6 1108.5 507.5 1111.2 509.5 1113.9C511.5 1116.6 513.5 1119.2 515.6 1121.8C517.7 1124.4 519.8 1127.0 522.0 1129.5C524.2 1132.0 526.5 1134.5 528.8 1136.9C531.1 1139.3 533.4 1141.7 535.8 1144.0C538.2 1146.3 540.7 1148.6 543.2 1150.8C545.7 1153.0 548.2 1155.1 550.8 1157.2C553.4 1159.4 556.0 1161.4 558.7 1163.4C561.4 1165.4 564.1 1167.4 566.8 1169.3C569.6 1171.2 572.3 1173.0 575.2 1174.8C578.0 1176.6 580.8 1178.3 583.7 1180.0C586.6 1181.7 589.5 1183.3 592.4 1184.9C595.3 1186.5 598.3 1188.0 601.3 1189.5C604.3 1191.0 607.3 1192.5 610.3 1193.9C613.3 1195.2 616.4 1196.6 619.5 1197.9C622.5 1199.2 625.6 1200.4 628.7 1201.6C631.9 1202.9 635.0 1204.0 638.1 1205.1C641.3 1206.3 644.4 1207.3 647.6 1208.4C650.8 1209.4 653.9 1210.4 657.1 1211.4C660.3 1212.4 663.5 1213.3 666.7 1214.2C669.9 1215.1 673.2 1216.0 676.4 1216.8C679.6 1217.7 682.9 1218.5 686.1 1219.3C689.3 1220.0 692.6 1220.8 695.8 1221.5C699.1 1222.2 702.4 1222.9 705.6 1223.6C708.9 1224.3 712.2 1224.9 715.4 1225.6C718.7 1226.2 722.0 1226.8 725.3 1227.4C728.6 1228.0 731.9 1228.5 735.2 1229.1C738.4 1229.6 741.7 1230.1 745.0 1230.6C748.3 1231.1 751.6 1231.6 754.9 1232.1C758.2 1232.5 761.6 1233.0 764.9 1233.4C768.2 1233.8 771.5 1234.2 774.8 1234.6C778.1 1235.0 781.4 1235.4 784.7 1235.8C788.0 1236.2 791.4 1236.5 794.7 1236.9C798.0 1237.2 801.3 1237.6 804.6 1237.9C807.9 1238.2 811.3 1238.6 814.6 1238.9C817.9 1239.2 821.2 1239.5 824.6 1239.8C827.9 1240.1 831.2 1240.4 834.5 1240.7C837.8 1241.0 841.2 1241.3 844.5 1241.6C847.8 1241.9 851.1 1242.1 854.5 1242.4C857.8 1242.7 861.1 1242.9 864.4 1243.2C867.8 1243.5 871.1 1243.7 874.4 1244.0C877.7 1244.2 881.1 1244.4 884.4 1244.7C887.7 1244.9 891.1 1245.1 894.4 1245.4C897.7 1245.6 901.0 1245.8 904.4 1246.0C907.7 1246.2 911.0 1246.4 914.4 1246.6C917.7 1246.8 921.0 1247.0 924.3 1247.2C927.7 1247.4 931.0 1247.6 934.3 1247.7C937.7 1247.9 941.0 1248.1 944.3 1248.3C947.7 1248.4 951.0 1248.6 954.3 1248.7C957.7 1248.9 961.0 1249.1 964.3 1249.2C967.7 1249.4 971.0 1249.5 974.3 1249.7C977.7 1249.8 981.0 1250.0 984.3 1250.1C987.6 1250.2 991.0 1250.4 994.3 1250.5C997.6 1250.6 1001.0 1250.8 1004.3 1250.9C1007.6 1251.0 1011.0 1251.2 1014.3 1251.3C1017.6 1251.4 1021.0 1251.5 1024.3 1251.6C1027.6 1251.8 1031.0 1251.9 1034.3 1252.0C1037.6 1252.1 1041.0 1252.2 1044.3 1252.4C1047.6 1252.5 1051.0 1252.6 1054.3 1252.7C1057.6 1252.8 1061.0 1252.9 1064.3 1253.0C1067.7 1253.2 1071.0 1253.3 1074.3 1253.4C1077.7 1253.5 1081.0 1253.6 1084.3 1253.7C1087.7 1253.8 1091.0 1253.9 1094.3 1254.0C1097.7 1254.1 1101.0 1254.2 1104.3 1254.3C1107.7 1254.3 1111.0 1254.4 1114.3 1254.5C1117.7 1254.6 1121.0 1254.7 1124.3 1254.8C1127.7 1254.9 1131.0 1254.9 1134.3 1255.0C1137.7 1255.1 1141.0 1255.2 1144.3 1255.2C1147.7 1255.3 1151.0 1255.4 1154.3 1255.4C1157.7 1255.5 1161.0 1255.5 1164.4 1255.6C1167.7 1255.7 1171.0 1255.7 1174.4 1255.8C1177.7 1255.8 1181.0 1255.9 1184.4 1255.9C1187.7 1256.0 1191.0 1256.0 1194.4 1256.1C1197.7 1256.1 1201.0 1256.2 1204.4 1256.2C1207.7 1256.3 1211.0 1256.3 1214.4 1256.4C1217.7 1256.4 1221.1 1256.5 1224.4 1256.5C1227.7 1256.5 1231.1 1256.6 1234.4 1256.6C1237.7 1256.7 1241.1 1256.7 1244.4 1256.8C1247.7 1256.8 1251.1 1256.8 1254.4 1256.9C1257.7 1256.9 1261.1 1256.9 1264.4 1257.0C1267.7 1257.0 1271.1 1257.0 1274.4 1257.1C1277.8 1257.1 1281.1 1257.1 1284.4 1257.2C1287.8 1257.2 1291.1 1257.2 1294.4 1257.3C1297.8 1257.3 1301.1 1257.3 1304.4 1257.4C1307.8 1257.4 1311.1 1257.4 1314.4 1257.5C1317.8 1257.5 1321.1 1257.5 1324.5 1257.5C1327.8 1257.6 1331.1 1257.6 1334.5 1257.6C1337.8 1257.7 1341.1 1257.7 1344.5 1257.7C1347.8 1257.7 1351.1 1257.8 1354.5 1257.8C1357.8 1257.8 1361.1 1257.8 1364.5 1257.9C1367.8 1257.9 1371.2 1257.9 1374.5 1257.9C1377.8 1257.9 1381.2 1257.9 1384.5 1258.0C1387.8 1258.0 1391.2 1258.0 1394.5 1258.0"/>
<path class="c-orange" fill="none" stroke="#e3a000" stroke-width="5.5" stroke-linejoin="round" stroke-linecap="butt" stroke-dasharray="25.9 31.1 31.4 31.1 31.4 31.1 31.4 31.1 31.4 31.1 31.4 31.1 31.4 31.1 31.4 31.1 31.4 31.1 31.4 31.1 31.4 29.0 31.4 31.4 31.4 29.6 31.4 33.1 31.4 31.4 31.4 30.6 31.4 31.2 31.4 29.8 31.4 30.7 31.4 28.5 31.4 26.9 31.4 33.0 31.4 31.1 31.4 30.8 31.4 31.7 31.4 30.4 31.4 30.4 31.4 32.4 31.4 30.2 31.4 30.9 31.0 50.0" d="M168.0 1267.0C168.5 1263.7 168.9 1260.4 169.4 1257.1C169.9 1253.8 170.4 1250.5 170.9 1247.2C171.3 1243.9 171.8 1240.6 172.3 1237.3C172.8 1234.0 173.2 1230.7 173.7 1227.4C174.2 1224.1 174.7 1220.8 175.2 1217.5C175.7 1214.2 176.2 1210.9 176.6 1207.6C177.1 1204.3 177.6 1201.0 178.1 1197.7C178.6 1194.4 179.1 1191.1 179.6 1187.8C180.1 1184.5 180.7 1181.2 181.2 1177.9C181.7 1174.6 182.2 1171.3 182.7 1168.0C183.2 1164.7 183.8 1161.4 184.3 1158.1C184.8 1154.8 185.3 1151.5 185.9 1148.2C186.4 1144.9 186.9 1141.6 187.5 1138.3C188.0 1135.0 188.5 1131.8 189.1 1128.5C189.6 1125.2 190.2 1121.9 190.7 1118.6C191.3 1115.3 191.8 1112.0 192.4 1108.7C192.9 1105.4 193.5 1102.1 194.0 1098.8C194.6 1095.5 195.1 1092.3 195.7 1089.0C196.3 1085.7 196.8 1082.4 197.4 1079.1C198.0 1075.8 198.5 1072.5 199.1 1069.2C199.6 1065.9 200.2 1062.7 200.8 1059.4C201.3 1056.1 201.9 1052.8 202.5 1049.5C203.0 1046.2 203.6 1042.9 204.2 1039.6C204.7 1036.3 205.3 1033.1 205.8 1029.8C206.4 1026.5 207.0 1023.2 207.5 1019.9C208.1 1016.6 208.7 1013.3 209.2 1010.0C209.8 1006.7 210.3 1003.5 210.9 1000.2C211.5 996.9 212.0 993.6 212.6 990.3C213.1 987.0 213.7 983.7 214.3 980.4C214.8 977.1 215.4 973.9 215.9 970.6C216.5 967.3 217.1 964.0 217.6 960.7C218.2 957.4 218.8 954.1 219.3 950.8C219.9 947.5 220.5 944.3 221.0 941.0C221.6 937.7 222.2 934.4 222.8 931.1C223.4 927.8 223.9 924.5 224.5 921.3C225.1 918.0 225.7 914.7 226.3 911.4C226.9 908.1 227.5 904.8 228.1 901.6C228.7 898.3 229.4 895.0 230.0 891.7C230.6 888.4 231.2 885.2 231.8 881.9C232.5 878.6 233.1 875.3 233.7 872.1C234.3 868.8 235.0 865.5 235.6 862.2C236.2 859.0 236.9 855.7 237.5 852.4C238.1 849.1 238.8 845.8 239.4 842.6C240.0 839.3 240.7 836.0 241.3 832.7C241.9 829.5 242.6 826.2 243.2 822.9C243.8 819.6 244.5 816.4 245.1 813.1C245.8 809.8 246.4 806.5 247.1 803.3C247.7 800.0 248.4 796.7 249.0 793.5C249.7 790.2 250.4 786.9 251.0 783.7C251.7 780.4 252.4 777.1 253.1 773.9C253.8 770.6 254.5 767.3 255.2 764.1C255.9 760.8 256.7 757.6 257.4 754.3C258.2 751.1 258.9 747.8 259.7 744.6C260.4 741.3 261.2 738.1 262.0 734.8C262.8 731.6 263.6 728.3 264.4 725.1C265.1 721.8 265.9 718.6 266.7 715.4C267.6 712.1 268.4 708.9 269.2 705.7C270.0 702.4 270.8 699.2 271.6 695.9C272.4 692.7 273.2 689.5 274.0 686.2C274.8 683.0 275.7 679.8 276.5 676.5C277.3 673.3 278.1 670.1 279.0 666.8C279.8 663.6 280.7 660.4 281.5 657.2C282.4 653.9 283.2 650.7 284.1 647.5C285.0 644.3 285.9 641.1 286.9 637.9C287.8 634.7 288.8 631.5 289.9 628.3C291.0 625.2 292.1 622.0 293.3 618.9C294.6 615.8 296.0 612.8 297.5 609.8C299.1 606.9 300.8 604.1 302.8 601.3C304.8 598.5 307.1 595.8 309.8 594.3C312.8 592.5 316.4 593.0 319.0 595.3C321.3 597.4 322.9 600.5 324.2 603.7C325.5 606.9 326.5 610.0 327.3 613.2C328.2 616.5 328.8 619.8 329.4 623.0C329.9 626.3 330.4 629.6 330.9 632.9C331.4 636.2 331.9 639.5 332.5 642.8C333.1 646.1 333.7 649.4 334.3 652.6C335.0 655.9 335.6 659.2 336.1 662.5C336.7 665.8 337.2 669.1 337.7 672.4C338.2 675.7 338.6 679.0 339.0 682.3C339.4 685.6 339.9 688.9 340.3 692.2C340.7 695.5 341.2 698.8 341.7 702.1C342.1 705.4 342.6 708.7 343.2 712.0C343.7 715.3 344.2 718.6 344.8 721.9C345.3 725.2 345.8 728.5 346.3 731.8C346.8 735.1 347.4 738.4 347.9 741.7C348.4 745.0 348.9 748.3 349.4 751.6C349.9 754.9 350.4 758.2 350.8 761.5C351.3 764.8 351.8 768.1 352.3 771.4C352.7 774.7 353.2 778.0 353.7 781.3C354.1 784.6 354.6 787.9 355.1 791.2C355.5 794.5 356.0 797.8 356.5 801.1C356.9 804.5 357.4 807.8 357.8 811.1C358.3 814.4 358.8 817.7 359.2 821.0C359.7 824.3 360.2 827.6 360.7 830.9C361.2 834.2 361.7 837.5 362.2 840.8C362.7 844.1 363.2 847.4 363.7 850.7C364.2 854.0 364.7 857.3 365.2 860.6C365.8 863.9 366.3 867.1 366.8 870.4C367.3 873.7 367.9 877.0 368.4 880.3C369.0 883.6 369.5 886.9 370.1 890.2C370.6 893.5 371.2 896.8 371.7 900.1C372.3 903.4 372.9 906.6 373.4 909.9C374.0 913.2 374.6 916.5 375.1 919.8C375.7 923.1 376.3 926.4 376.9 929.7C377.4 932.9 378.0 936.2 378.6 939.5C379.2 942.8 379.8 946.1 380.5 949.4C381.1 952.6 381.7 955.9 382.3 959.2C383.0 962.5 383.6 965.7 384.3 969.0C384.9 972.3 385.6 975.5 386.3 978.8C387.0 982.1 387.6 985.3 388.3 988.6C389.0 991.9 389.8 995.1 390.5 998.4C391.2 1001.6 392.0 1004.9 392.7 1008.1C393.5 1011.4 394.3 1014.6 395.1 1017.9C395.9 1021.1 396.7 1024.3 397.5 1027.6C398.4 1030.8 399.2 1034.0 400.1 1037.2C401.0 1040.5 401.9 1043.7 402.9 1046.9C403.8 1050.1 404.8 1053.3 405.8 1056.4C406.8 1059.6 407.8 1062.8 408.9 1065.9C410.0 1069.1 411.1 1072.2 412.3 1075.4C413.5 1078.5 414.7 1081.6 415.9 1084.7C417.2 1087.8 418.4 1090.9 419.8 1093.9C421.1 1097.0 422.5 1100.0 423.9 1103.1C425.3 1106.1 426.8 1109.1 428.3 1112.0C429.9 1115.0 431.4 1117.9 433.1 1120.9C434.7 1123.8 436.4 1126.7 438.1 1129.5C439.9 1132.3 441.7 1135.1 443.5 1137.9C445.4 1140.7 447.3 1143.4 449.3 1146.1C451.3 1148.8 453.4 1151.4 455.5 1154.0C457.6 1156.6 459.8 1159.1 462.0 1161.6C464.2 1164.0 466.5 1166.5 468.9 1168.8C471.3 1171.2 473.7 1173.4 476.2 1175.7C478.7 1177.9 481.2 1180.1 483.8 1182.1C486.4 1184.2 489.1 1186.3 491.8 1188.2C494.5 1190.2 497.2 1192.1 500.0 1193.9C502.8 1195.7 505.7 1197.4 508.6 1199.1C511.4 1200.8 514.4 1202.4 517.3 1204.0C520.3 1205.5 523.3 1207.0 526.3 1208.4C529.3 1209.9 532.3 1211.2 535.4 1212.5C538.5 1213.8 541.6 1215.1 544.7 1216.3C547.8 1217.4 551.0 1218.6 554.1 1219.6C557.3 1220.7 560.4 1221.8 563.6 1222.7C566.8 1223.7 570.0 1224.7 573.2 1225.6C576.5 1226.4 579.7 1227.3 582.9 1228.1C586.2 1228.9 589.4 1229.7 592.7 1230.4C595.9 1231.2 599.2 1231.9 602.4 1232.5C605.7 1233.2 609.0 1233.9 612.3 1234.5C615.5 1235.1 618.8 1235.7 622.1 1236.3C625.4 1236.8 628.7 1237.4 632.0 1237.9C635.3 1238.4 638.6 1238.9 641.9 1239.4C645.2 1239.8 648.5 1240.3 651.8 1240.7C655.1 1241.2 658.4 1241.6 661.7 1242.0C665.1 1242.4 668.4 1242.7 671.7 1243.1C675.0 1243.5 678.3 1243.8 681.6 1244.1C685.0 1244.5 688.3 1244.8 691.6 1245.1C694.9 1245.4 698.3 1245.7 701.6 1246.0C704.9 1246.3 708.2 1246.5 711.6 1246.8C714.9 1247.1 718.2 1247.3 721.5 1247.6C724.9 1247.8 728.2 1248.1 731.5 1248.3C734.8 1248.6 738.2 1248.8 741.5 1249.0C744.8 1249.3 748.2 1249.5 751.5 1249.7C754.8 1249.9 758.1 1250.1 761.5 1250.3C764.8 1250.6 768.1 1250.8 771.5 1251.0C774.8 1251.2 778.1 1251.4 781.5 1251.5C784.8 1251.7 788.1 1251.9 791.5 1252.1C794.8 1252.3 798.1 1252.4 801.5 1252.6C804.8 1252.8 808.1 1252.9 811.5 1253.1C814.8 1253.3 818.1 1253.4 821.5 1253.6C824.8 1253.7 828.1 1253.8 831.5 1254.0C834.8 1254.1 838.1 1254.2 841.5 1254.4C844.8 1254.5 848.1 1254.6 851.5 1254.7C854.8 1254.9 858.1 1255.0 861.5 1255.1C864.8 1255.2 868.1 1255.3 871.5 1255.4C874.8 1255.5 878.1 1255.6 881.5 1255.7C884.8 1255.8 888.1 1255.8 891.5 1255.9C894.8 1256.0 898.2 1256.1 901.5 1256.2C904.8 1256.3 908.2 1256.3 911.5 1256.4C914.8 1256.5 918.2 1256.6 921.5 1256.6C924.8 1256.7 928.2 1256.8 931.5 1256.9C934.8 1256.9 938.2 1257.0 941.5 1257.1C944.9 1257.1 948.2 1257.2 951.5 1257.3C954.9 1257.3 958.2 1257.4 961.5 1257.5C964.9 1257.5 968.2 1257.6 971.5 1257.7C974.9 1257.7 978.2 1257.8 981.5 1257.9C984.9 1257.9 988.2 1258.0 991.6 1258.1C994.9 1258.1 998.2 1258.2 1001.6 1258.2C1004.9 1258.3 1008.2 1258.4 1011.6 1258.4C1014.9 1258.5 1018.2 1258.5 1021.6 1258.6C1024.9 1258.6 1028.3 1258.7 1031.6 1258.8C1034.9 1258.8 1038.3 1258.9 1041.6 1258.9"/>
<path class="c-cyan" fill="none" stroke="#00d2d8" stroke-width="6.9" stroke-linejoin="round" stroke-linecap="round" stroke-dasharray="1.3 35.9 1.4 35.9 1.4 35.9 1.4 35.9 1.4 35.9 1.4 35.9 1.4 35.9 1.4 35.9 1.4 35.9 1.4 35.9 1.4 35.9 1.4 35.9 1.4 35.9 1.4 35.9 1.4 35.9 1.4 35.9 1.4 35.9 1.4 35.9 1.4 35.9 1.4 35.9 1.4 35.9 1.4 34.7 1.4 36.3 1.4 35.9 1.4 35.9 1.4 35.5 1.4 36.7 1.4 35.5 1.4 36.7 1.4 35.5 1.4 35.6 1.4 35.2 1.4 37.9 1.4 36.3 1.4 35.9 1.4 35.9 1.4 36.3 1.4 35.5 1.4 36.3 1.4 35.9 1.4 35.9 1.4 35.9 1.4 35.9 1.4 36.3 1.4 35.5 1.4 36.7 1.4 35.1 1.4 36.3 1.4 35.9 1.4 38.7 1.4 33.0 1.4 35.9 1.4 35.5 1.4 35.1 1.4 36.3 1.4 35.1 1.4 33.4 1.4 33.4 1.4 35.4 1.4 38.7 1.4 35.8 1.4 37.1 1.4 36.7 1.4 35.5 1.4 36.3 1.4 36.3 1.4 35.9 1.4 35.9 1.4 36.3 1.4 36.3 1.4 35.5 1.4 35.9 1.4 35.9 1.4 35.9 1.4 35.9 1.4 35.1 1.4 37.1 1.4 34.2 1.4 35.9 1.4 36.7 1.4 35.1 1.4 35.9 1.4 26.1 1.4 35.5 1.4 35.9 1.4 35.9 1.4 35.9 1.4 56.2" d="M168.0 1267.0C168.5 1263.7 168.9 1260.4 169.4 1257.1C169.9 1253.8 170.4 1250.5 170.8 1247.2C171.3 1243.9 171.8 1240.6 172.3 1237.3C172.8 1234.0 173.2 1230.7 173.7 1227.4C174.2 1224.1 174.7 1220.8 175.2 1217.5C175.7 1214.2 176.1 1210.9 176.6 1207.6C177.1 1204.3 177.6 1201.0 178.1 1197.7C178.6 1194.4 179.1 1191.1 179.6 1187.8C180.1 1184.5 180.6 1181.2 181.2 1178.0C181.7 1174.7 182.2 1171.4 182.7 1168.1C183.2 1164.8 183.8 1161.5 184.3 1158.2C184.8 1154.9 185.3 1151.6 185.9 1148.3C186.4 1145.0 186.9 1141.7 187.5 1138.4C188.0 1135.2 188.6 1131.9 189.1 1128.6C189.7 1125.3 190.2 1122.0 190.7 1118.7C191.3 1115.4 191.8 1112.1 192.4 1108.9C193.0 1105.6 193.5 1102.3 194.1 1099.0C194.6 1095.7 195.2 1092.4 195.8 1089.1C196.3 1085.8 196.9 1082.6 197.4 1079.3C198.0 1076.0 198.6 1072.7 199.1 1069.4C199.7 1066.1 200.3 1062.8 200.8 1059.6C201.4 1056.3 202.0 1053.0 202.5 1049.7C203.1 1046.4 203.6 1043.1 204.2 1039.8C204.7 1036.6 205.3 1033.3 205.9 1030.0C206.4 1026.7 207.0 1023.4 207.5 1020.1C208.0 1016.8 208.6 1013.5 209.1 1010.2C209.7 1006.9 210.2 1003.7 210.7 1000.4C211.2 997.1 211.7 993.8 212.3 990.5C212.8 987.2 213.3 983.9 213.8 980.6C214.3 977.3 214.8 974.0 215.3 970.7C215.8 967.4 216.3 964.1 216.8 960.8C217.3 957.5 217.7 954.2 218.2 950.9C218.7 947.6 219.2 944.3 219.7 941.0C220.2 937.7 220.7 934.4 221.1 931.1C221.6 927.8 222.1 924.5 222.6 921.2C223.1 917.9 223.6 914.6 224.1 911.3C224.5 908.0 225.0 904.8 225.5 901.5C226.0 898.2 226.5 894.9 227.0 891.6C227.5 888.3 228.0 885.0 228.5 881.7C229.0 878.4 229.5 875.1 230.1 871.8C230.6 868.5 231.1 865.2 231.6 861.9C232.1 858.6 232.6 855.3 233.1 852.0C233.6 848.7 234.2 845.4 234.7 842.1C235.2 838.9 235.7 835.6 236.2 832.3C236.7 829.0 237.3 825.7 237.8 822.4C238.3 819.1 238.8 815.8 239.4 812.5C239.9 809.2 240.4 805.9 241.0 802.6C241.5 799.3 242.0 796.1 242.6 792.8C243.1 789.5 243.7 786.2 244.2 782.9C244.7 779.6 245.3 776.3 245.9 773.0C246.4 769.7 247.0 766.5 247.5 763.2C248.1 759.9 248.6 756.6 249.2 753.3C249.8 750.0 250.4 746.7 250.9 743.5C251.5 740.2 252.1 736.9 252.7 733.6C253.3 730.3 253.8 727.0 254.4 723.8C255.0 720.5 255.6 717.2 256.2 713.9C256.8 710.6 257.4 707.4 258.0 704.1C258.6 700.8 259.2 697.5 259.8 694.3C260.5 691.0 261.1 687.7 261.7 684.4C262.3 681.2 263.0 677.9 263.6 674.6C264.2 671.3 264.9 668.1 265.5 664.8C266.1 661.5 266.8 658.2 267.4 655.0C268.1 651.7 268.7 648.4 269.4 645.2C270.0 641.9 270.7 638.6 271.3 635.4C272.0 632.1 272.7 628.8 273.3 625.5C274.0 622.3 274.6 619.0 275.3 615.7C275.9 612.5 276.6 609.2 277.2 605.9C277.8 602.7 278.5 599.4 279.1 596.1C279.8 592.8 280.4 589.6 281.0 586.3C281.7 583.0 282.3 579.8 282.9 576.5C283.6 573.2 284.2 569.9 284.8 566.7C285.5 563.4 286.1 560.1 286.7 556.8C287.4 553.6 288.0 550.3 288.6 547.0C289.2 543.7 289.9 540.5 290.5 537.2C291.1 533.9 291.7 530.6 292.4 527.4C293.0 524.1 293.6 520.8 294.2 517.5C294.9 514.3 295.5 511.0 296.1 507.7C296.8 504.4 297.4 501.2 298.0 497.9C298.7 494.6 299.3 491.4 299.9 488.1C300.6 484.8 301.2 481.5 301.8 478.3C302.5 475.0 303.1 471.7 303.7 468.4C304.4 465.2 305.0 461.9 305.7 458.6C306.3 455.4 307.0 452.1 307.6 448.8C308.3 445.6 308.9 442.3 309.6 439.0C310.3 435.7 310.9 432.5 311.6 429.2C312.3 426.0 312.9 422.7 313.6 419.4C314.3 416.2 315.0 412.9 315.7 409.6C316.4 406.4 317.1 403.1 317.8 399.9C318.5 396.6 319.2 393.3 319.9 390.1C320.7 386.8 321.4 383.6 322.1 380.3C322.9 377.1 323.6 373.8 324.4 370.6C325.1 367.3 325.9 364.1 326.7 360.8C327.4 357.6 328.2 354.4 329.0 351.1C329.8 347.9 330.5 344.6 331.3 341.4C332.1 338.2 332.9 334.9 333.7 331.7C334.5 328.4 335.3 325.2 336.1 322.0C336.9 318.7 337.7 315.5 338.5 312.3C339.3 309.0 340.1 305.8 340.9 302.6C341.7 299.3 342.5 296.1 343.3 292.9C344.2 289.6 345.0 286.4 345.8 283.2C346.6 279.9 347.5 276.7 348.3 273.5C349.1 270.2 350.0 267.0 350.8 263.8C351.7 260.6 352.6 257.4 353.5 254.1C354.3 250.9 355.2 247.7 356.1 244.5C357.0 241.3 357.9 238.1 358.8 234.9C359.8 231.7 360.7 228.5 361.7 225.3C362.6 222.1 363.6 218.9 364.6 215.7C365.6 212.5 366.6 209.4 367.6 206.2C368.7 203.0 369.8 199.9 370.9 196.7C372.0 193.6 373.1 190.4 374.2 187.3C375.4 184.2 376.5 181.1 377.7 177.9C378.9 174.8 380.1 171.7 381.3 168.6C382.5 165.5 383.8 162.4 385.1 159.3C386.3 156.3 387.7 153.2 389.1 150.2C390.5 147.2 392.0 144.2 393.7 141.3C395.3 138.4 397.0 135.5 398.9 132.7C400.7 130.0 402.8 127.3 405.1 125.0C407.5 122.6 410.2 120.4 413.1 119.1C416.3 117.7 419.7 117.5 422.9 118.6C425.9 119.8 428.5 122.0 430.5 124.8C432.4 127.4 434.0 130.5 435.4 133.5C436.9 136.6 438.2 139.7 439.3 142.7C440.5 145.9 441.6 149.0 442.6 152.2C443.6 155.4 444.5 158.6 445.4 161.8C446.2 165.0 446.9 168.3 447.6 171.5C448.3 174.8 449.0 178.1 449.6 181.3C450.2 184.6 450.7 187.9 451.3 191.2C451.8 194.5 452.3 197.8 452.8 201.1C453.3 204.4 453.7 207.7 454.2 211.0C454.6 214.3 455.0 217.6 455.5 220.9C455.9 224.2 456.3 227.5 456.7 230.8C457.1 234.2 457.4 237.5 457.8 240.8C458.2 244.1 458.6 247.4 458.9 250.7C459.3 254.0 459.7 257.3 460.0 260.7C460.4 264.0 460.7 267.3 461.1 270.6C461.4 273.9 461.8 277.2 462.1 280.5C462.5 283.9 462.8 287.2 463.2 290.5C463.5 293.8 463.8 297.1 464.2 300.4C464.5 303.8 464.9 307.1 465.2 310.4C465.5 313.7 465.9 317.0 466.2 320.3C466.6 323.7 466.9 327.0 467.2 330.3C467.6 333.6 467.9 336.9 468.3 340.2C468.6 343.6 469.0 346.9 469.3 350.2C469.7 353.5 470.0 356.8 470.4 360.1C470.8 363.4 471.1 366.8 471.5 370.1C471.8 373.4 472.2 376.7 472.6 380.0C472.9 383.3 473.3 386.6 473.7 390.0C474.1 393.3 474.4 396.6 474.8 399.9C475.2 403.2 475.6 406.5 476.0 409.8C476.4 413.1 476.7 416.5 477.1 419.8C477.5 423.1 477.9 426.4 478.3 429.7C478.7 433.0 479.1 436.3 479.6 439.6C480.0 442.9 480.4 446.2 480.8 449.5C481.2 452.9 481.6 456.2 482.0 459.5C482.5 462.8 482.9 466.1 483.3 469.4C483.7 472.7 484.2 476.0 484.6 479.3C485.0 482.6 485.5 485.9 485.9 489.2C486.3 492.5 486.8 495.8 487.2 499.1C487.7 502.4 488.1 505.7 488.6 509.0C489.0 512.4 489.5 515.7 489.9 519.0C490.4 522.3 490.9 525.6 491.3 528.9C491.8 532.2 492.3 535.5 492.7 538.8C493.2 542.1 493.7 545.4 494.2 548.7C494.7 552.0 495.2 555.3 495.7 558.5C496.2 561.8 496.7 565.1 497.2 568.4C497.7 571.7 498.2 575.0 498.7 578.3C499.2 581.6 499.8 584.9 500.3 588.2C500.8 591.5 501.4 594.8 501.9 598.1C502.4 601.4 503.0 604.6 503.5 607.9C504.1 611.2 504.7 614.5 505.2 617.8C505.8 621.1 506.4 624.4 506.9 627.6C507.5 630.9 508.1 634.2 508.7 637.5C509.3 640.8 509.9 644.1 510.5 647.3C511.1 650.6 511.7 653.9 512.3 657.2C512.9 660.4 513.5 663.7 514.1 667.0C514.8 670.3 515.4 673.5 516.0 676.8C516.7 680.1 517.3 683.4 517.9 686.6C518.6 689.9 519.2 693.2 519.9 696.4C520.5 699.7 521.2 703.0 521.9 706.3C522.5 709.5 523.2 712.8 523.9 716.0C524.6 719.3 525.3 722.6 526.0 725.8C526.7 729.1 527.4 732.3 528.1 735.6C528.8 738.9 529.6 742.1 530.3 745.4C531.0 748.6 531.8 751.9 532.5 755.1C533.3 758.4 534.1 761.6 534.8 764.8C535.6 768.1 536.4 771.3 537.2 774.6C538.0 777.8 538.9 781.0 539.7 784.2C540.5 787.5 541.4 790.7 542.2 793.9C543.1 797.1 544.0 800.3 544.9 803.6C545.8 806.8 546.7 810.0 547.6 813.2C548.5 816.4 549.5 819.6 550.4 822.8C551.4 826.0 552.4 829.2 553.3 832.4C554.3 835.5 555.3 838.7 556.3 841.9C557.3 845.1 558.3 848.3 559.4 851.4C560.4 854.6 561.4 857.8 562.5 860.9C563.6 864.1 564.6 867.2 565.7 870.4C566.8 873.5 567.9 876.7 569.0 879.8C570.1 883.0 571.3 886.1 572.4 889.2C573.6 892.4 574.8 895.5 576.0 898.6C577.1 901.7 578.4 904.8 579.6 907.9C580.8 911.0 582.1 914.1 583.3 917.2C584.6 920.3 585.9 923.3 587.2 926.4C588.5 929.5 589.9 932.5 591.2 935.6C592.6 938.6 594.0 941.6 595.4 944.7C596.8 947.7 598.2 950.7 599.7 953.7C601.2 956.7 602.6 959.7 604.2 962.6C605.7 965.6 607.2 968.6 608.8 971.5C610.3 974.5 611.9 977.4 613.5 980.3C615.2 983.2 616.8 986.1 618.5 989.0C620.2 991.9 621.9 994.7 623.6 997.6C625.3 1000.4 627.1 1003.3 628.9 1006.1C630.7 1008.9 632.5 1011.7 634.4 1014.5C636.2 1017.2 638.1 1020.0 640.0 1022.7C642.0 1025.4 643.9 1028.1 645.9 1030.8C647.9 1033.5 649.9 1036.1 652.0 1038.7C654.0 1041.4 656.1 1043.9 658.3 1046.5C660.4 1049.1 662.6 1051.6 664.7 1054.1C666.9 1056.6 669.2 1059.1 671.4 1061.6C673.7 1064.0 676.0 1066.4 678.3 1068.8C680.6 1071.2 683.0 1073.6 685.4 1075.9C687.8 1078.2 690.2 1080.5 692.7 1082.8C695.1 1085.0 697.6 1087.3 700.1 1089.4C702.6 1091.6 705.1 1093.8 707.7 1095.9C710.3 1098.0 712.9 1100.1 715.5 1102.2C718.1 1104.2 720.8 1106.3 723.5 1108.2C726.2 1110.2 728.9 1112.2 731.6 1114.1C734.3 1116.0 737.1 1117.9 739.9 1119.7C742.7 1121.5 745.5 1123.3 748.3 1125.1C751.1 1126.8 754.0 1128.6 756.9 1130.2C759.7 1131.9 762.6 1133.6 765.6 1135.2C768.5 1136.8 771.4 1138.4 774.4 1139.9C777.3 1141.5 780.3 1143.0 783.3 1144.5C786.3 1146.0 789.3 1147.4 792.3 1148.8C795.3 1150.2 798.3 1151.6 801.4 1153.0C804.4 1154.3 807.5 1155.6 810.6 1156.9C813.6 1158.2 816.7 1159.5 819.8 1160.7C822.9 1162.0 826.0 1163.2 829.1 1164.4C832.3 1165.5 835.4 1166.7 838.5 1167.8C841.7 1168.9 844.8 1170.0 848.0 1171.1C851.1 1172.2 854.3 1173.3 857.4 1174.3C860.6 1175.3 863.8 1176.3 867.0 1177.3C870.2 1178.3 873.4 1179.2 876.6 1180.2C879.8 1181.1 883.0 1182.0 886.2 1182.9C889.4 1183.8 892.6 1184.7 895.8 1185.6C899.1 1186.4 902.3 1187.2 905.5 1188.1C908.7 1188.9 912.0 1189.7 915.2 1190.4C918.5 1191.2 921.7 1192.0 925.0 1192.7C928.2 1193.4 931.5 1194.2 934.7 1194.9C938.0 1195.6 941.3 1196.3 944.5 1196.9C947.8 1197.6 951.1 1198.3 954.3 1198.9C957.6 1199.5 960.9 1200.2 964.1 1200.8C967.4 1201.4 970.7 1202.0 974.0 1202.6C977.3 1203.2 980.6 1203.8 983.8 1204.3C987.1 1204.9 990.4 1205.4 993.7 1206.0C997.0 1206.5 1000.3 1207.1 1003.6 1207.6C1006.9 1208.1 1010.2 1208.7 1013.4 1209.2C1016.7 1209.7 1020.0 1210.2 1023.3 1210.7C1026.6 1211.2 1029.9 1211.6 1033.2 1212.1C1036.5 1212.6 1039.8 1213.1 1043.1 1213.5C1046.4 1214.0 1049.7 1214.4 1053.0 1214.8C1056.4 1215.3 1059.7 1215.7 1063.0 1216.1C1066.3 1216.5 1069.6 1216.9 1072.9 1217.3C1076.2 1217.7 1079.5 1218.1 1082.8 1218.5C1086.1 1218.9 1089.5 1219.3 1092.8 1219.6C1096.1 1220.0 1099.4 1220.3 1102.7 1220.7C1106.0 1221.0 1109.3 1221.4 1112.7 1221.7C1116.0 1222.0 1119.3 1222.4 1122.6 1222.7C1125.9 1223.0 1129.3 1223.3 1132.6 1223.6C1135.9 1224.0 1139.2 1224.3 1142.5 1224.6C1145.9 1224.9 1149.2 1225.1 1152.5 1225.4C1155.8 1225.7 1159.1 1226.0 1162.5 1226.3C1165.8 1226.5 1169.1 1226.8 1172.4 1227.1C1175.8 1227.3 1179.1 1227.6 1182.4 1227.8C1185.7 1228.1 1189.1 1228.3 1192.4 1228.6C1195.7 1228.8 1199.0 1229.1 1202.4 1229.3C1205.7 1229.5 1209.0 1229.8 1212.3 1230.0C1215.7 1230.2 1219.0 1230.5 1222.3 1230.7C1225.6 1230.9 1229.0 1231.1 1232.3 1231.3C1235.6 1231.5 1238.9 1231.8 1242.3 1232.0C1245.6 1232.2 1248.9 1232.4 1252.3 1232.6C1255.6 1232.8 1258.9 1233.0 1262.2 1233.2C1265.6 1233.4 1268.9 1233.6 1272.2 1233.8C1275.5 1233.9 1278.9 1234.1 1282.2 1234.3C1285.5 1234.5 1288.9 1234.7 1292.2 1234.9C1295.5 1235.0 1298.9 1235.2 1302.2 1235.4C1305.5 1235.6 1308.8 1235.7 1312.2 1235.9C1315.5 1236.1 1318.8 1236.2 1322.2 1236.4C1325.5 1236.6 1328.8 1236.8 1332.1 1236.9C1335.5 1237.1 1338.8 1237.3 1342.1 1237.5C1345.5 1237.6 1348.8 1237.8 1352.1 1238.0C1355.5 1238.1 1358.8 1238.3 1362.1 1238.5C1365.4 1238.6 1368.8 1238.8 1372.1 1239.0C1375.4 1239.1 1378.8 1239.3 1382.1 1239.4C1385.4 1239.6 1388.8 1239.7 1392.1 1239.9C1395.4 1240.0 1398.7 1240.2 1402.1 1240.3C1405.4 1240.5 1408.7 1240.6 1412.1 1240.8C1415.4 1240.9 1418.7 1241.0 1422.1 1241.2C1425.4 1241.3 1428.7 1241.4 1432.1 1241.6C1435.4 1241.7 1438.7 1241.8 1442.0 1242.0C1445.4 1242.1 1448.7 1242.2 1452.0 1242.3C1455.4 1242.4 1458.7 1242.6 1462.0 1242.7C1465.4 1242.8 1468.7 1242.9 1472.0 1243.0C1475.4 1243.2 1478.7 1243.3 1482.0 1243.4C1485.4 1243.5 1488.7 1243.6 1492.0 1243.7C1495.4 1243.8 1498.7 1243.9 1502.0 1244.0C1505.4 1244.2 1508.7 1244.3 1512.0 1244.4C1515.4 1244.5 1518.7 1244.6 1522.0 1244.6C1525.3 1244.7 1528.7 1244.8 1532.0 1244.9C1535.3 1245.0 1538.7 1245.1 1542.0 1245.2C1545.3 1245.3 1548.7 1245.4 1552.0 1245.4C1555.3 1245.5 1558.7 1245.6 1562.0 1245.7C1565.3 1245.8 1568.7 1245.8 1572.0 1245.9C1575.3 1246.0 1578.7 1246.1 1582.0 1246.2C1585.3 1246.2 1588.7 1246.3 1592.0 1246.4C1595.3 1246.5 1598.7 1246.5 1602.0 1246.6C1605.3 1246.7 1608.7 1246.8 1612.0 1246.8C1615.3 1246.9 1618.7 1247.0 1622.0 1247.0C1625.3 1247.1 1628.7 1247.2 1632.0 1247.3C1635.3 1247.3 1638.7 1247.4 1642.0 1247.5C1645.3 1247.5 1648.7 1247.6 1652.0 1247.7C1655.3 1247.7 1658.7 1247.8 1662.0 1247.9C1665.3 1248.0 1668.7 1248.0 1672.0 1248.1C1675.3 1248.2 1678.7 1248.2 1682.0 1248.3C1685.3 1248.4 1688.7 1248.4 1692.0 1248.5"/>
<path class="c-brown" fill="none" stroke="#7d3c3c" stroke-width="6.3" stroke-linejoin="round" stroke-linecap="round" stroke-dasharray="1.3 35.8 1.4 35.8 1.4 35.8 1.4 35.8 1.4 35.8 1.4 35.8 1.4 35.8 1.4 35.8 1.4 35.8 1.4 35.8 1.4 35.8 1.4 35.8 1.4 35.8 1.4 35.8 1.4 35.8 1.4 35.8 1.4 36.0 1.4 36.7 1.4 35.2 1.4 35.7 1.4 35.7 1.4 29.3 1.4 38.6 1.4 36.3 1.4 36.3 1.4 35.4 1.4 36.3 1.4 35.4 1.4 36.6 1.4 35.4 1.4 36.0 1.4 36.0 1.4 36.3 1.4 35.7 1.4 36.0 1.4 35.7 1.4 36.4 1.4 34.8 1.4 35.1 1.4 34.1 1.4 35.6 1.4 38.6 1.4 38.3 1.4 36.3 1.4 36.4 1.4 36.1 1.4 36.1 1.4 36.3 1.4 35.4 1.4 36.3 1.4 35.1 1.4 36.0 1.4 35.7 1.4 36.0 1.4 36.0 1.4 36.0 1.4 35.1 1.4 36.0 1.4 35.7 1.4 36.0 1.4 36.0 1.4 35.4 1.4 35.4 1.4 36.0 1.4 36.3 1.4 49.3 0.7 50.0" d="M168.0 1267.0C168.5 1263.7 168.9 1260.4 169.4 1257.1C169.9 1253.8 170.4 1250.5 170.9 1247.2C171.3 1243.9 171.8 1240.6 172.3 1237.3C172.8 1234.0 173.2 1230.7 173.7 1227.4C174.2 1224.1 174.7 1220.8 175.2 1217.5C175.7 1214.2 176.2 1210.9 176.6 1207.6C177.1 1204.3 177.6 1201.0 178.1 1197.7C178.6 1194.4 179.1 1191.1 179.6 1187.8C180.1 1184.5 180.7 1181.2 181.2 1177.9C181.7 1174.6 182.2 1171.3 182.7 1168.0C183.2 1164.7 183.8 1161.4 184.3 1158.1C184.8 1154.8 185.4 1151.5 185.9 1148.2C186.4 1144.9 187.0 1141.6 187.5 1138.3C188.0 1135.1 188.6 1131.8 189.1 1128.5C189.7 1125.2 190.2 1121.9 190.8 1118.6C191.3 1115.3 191.9 1112.0 192.4 1108.7C193.0 1105.4 193.5 1102.1 194.1 1098.9C194.6 1095.6 195.2 1092.3 195.8 1089.0C196.3 1085.7 196.9 1082.4 197.4 1079.1C198.0 1075.8 198.6 1072.5 199.1 1069.3C199.7 1066.0 200.3 1062.7 200.8 1059.4C201.4 1056.1 202.0 1052.8 202.5 1049.5C203.1 1046.2 203.6 1042.9 204.2 1039.7C204.8 1036.4 205.3 1033.1 205.9 1029.8C206.4 1026.5 207.0 1023.2 207.5 1019.9C208.1 1016.6 208.6 1013.3 209.1 1010.0C209.7 1006.7 210.2 1003.5 210.8 1000.2C211.3 996.9 211.8 993.6 212.3 990.3C212.9 987.0 213.4 983.7 213.9 980.4C214.4 977.1 214.9 973.8 215.4 970.5C216.0 967.2 216.5 963.9 217.0 960.6C217.5 957.3 218.0 954.0 218.5 950.7C219.0 947.4 219.5 944.1 220.0 940.8C220.6 937.5 221.1 934.2 221.6 930.9C222.1 927.6 222.6 924.3 223.1 921.1C223.7 917.8 224.2 914.5 224.7 911.2C225.3 907.9 225.8 904.6 226.3 901.3C226.9 898.0 227.4 894.7 228.0 891.4C228.5 888.1 229.1 884.8 229.6 881.5C230.2 878.3 230.8 875.0 231.3 871.7C231.9 868.4 232.5 865.1 233.1 861.8C233.6 858.5 234.2 855.2 234.8 852.0C235.4 848.7 235.9 845.4 236.5 842.1C237.1 838.8 237.7 835.5 238.3 832.2C238.9 829.0 239.5 825.7 240.0 822.4C240.6 819.1 241.2 815.8 241.8 812.5C242.4 809.3 243.0 806.0 243.6 802.7C244.2 799.4 244.8 796.1 245.4 792.9C246.0 789.6 246.6 786.3 247.2 783.0C247.8 779.7 248.4 776.4 249.0 773.2C249.6 769.9 250.3 766.6 250.9 763.3C251.5 760.0 252.1 756.8 252.8 753.5C253.4 750.2 254.0 746.9 254.7 743.7C255.3 740.4 256.0 737.1 256.6 733.9C257.3 730.6 258.0 727.3 258.7 724.1C259.3 720.8 260.0 717.5 260.7 714.3C261.4 711.0 262.1 707.7 262.8 704.5C263.5 701.2 264.3 698.0 265.0 694.7C265.7 691.4 266.5 688.2 267.2 684.9C267.9 681.7 268.7 678.4 269.4 675.2C270.2 671.9 270.9 668.7 271.7 665.4C272.4 662.2 273.1 658.9 273.9 655.7C274.6 652.4 275.4 649.2 276.1 645.9C276.9 642.7 277.6 639.4 278.4 636.2C279.2 632.9 279.9 629.7 280.7 626.4C281.4 623.2 282.2 619.9 282.9 616.7C283.7 613.4 284.4 610.2 285.2 606.9C286.0 603.7 286.8 600.4 287.5 597.2C288.3 593.9 289.1 590.7 289.9 587.5C290.8 584.2 291.6 581.0 292.4 577.8C293.3 574.5 294.2 571.3 295.1 568.1C296.0 564.9 296.9 561.7 297.9 558.5C298.8 555.3 299.8 552.1 300.8 548.9C301.8 545.8 302.8 542.6 303.9 539.4C304.9 536.2 306.0 533.1 307.1 529.9C308.2 526.8 309.3 523.6 310.4 520.5C311.5 517.4 312.7 514.2 313.8 511.1C315.0 508.0 316.2 504.9 317.4 501.7C318.5 498.6 319.7 495.5 321.1 492.4C322.4 489.3 323.8 486.3 325.5 483.5C327.3 480.6 329.3 477.9 331.6 475.6C334.0 473.2 336.8 471.0 339.8 469.9C343.0 468.7 346.3 469.4 349.1 471.8C351.5 473.8 353.4 476.8 354.8 479.8C356.2 482.8 357.2 486.1 358.0 489.3C358.8 492.6 359.4 495.9 360.0 499.1C360.6 502.4 361.2 505.7 361.7 509.0C362.2 512.3 362.7 515.6 363.1 518.9C363.6 522.2 364.1 525.5 364.7 528.8C365.2 532.1 365.8 535.4 366.4 538.6C367.0 541.9 367.6 545.2 368.3 548.5C368.9 551.8 369.5 555.0 370.1 558.3C370.7 561.6 371.3 564.9 371.9 568.2C372.5 571.5 373.0 574.7 373.5 578.0C374.0 581.3 374.5 584.6 374.9 587.9C375.4 591.3 375.8 594.6 376.2 597.9C376.7 601.2 377.1 604.5 377.5 607.8C377.9 611.1 378.3 614.4 378.7 617.7C379.0 621.1 379.4 624.4 379.8 627.7C380.2 631.0 380.6 634.3 381.0 637.6C381.4 640.9 381.7 644.3 382.1 647.6C382.5 650.9 382.9 654.2 383.3 657.5C383.7 660.8 384.1 664.1 384.5 667.5C384.9 670.8 385.3 674.1 385.6 677.4C386.0 680.7 386.4 684.0 386.9 687.3C387.3 690.6 387.7 694.0 388.1 697.3C388.5 700.6 388.9 703.9 389.3 707.2C389.7 710.5 390.2 713.8 390.6 717.1C391.0 720.4 391.4 723.7 391.9 727.1C392.3 730.4 392.7 733.7 393.2 737.0C393.6 740.3 394.0 743.6 394.5 746.9C394.9 750.2 395.4 753.5 395.8 756.8C396.3 760.1 396.7 763.4 397.2 766.7C397.7 770.0 398.1 773.3 398.6 776.6C399.1 779.9 399.6 783.2 400.1 786.5C400.5 789.8 401.0 793.1 401.5 796.4C402.0 799.7 402.5 803.0 403.0 806.3C403.6 809.6 404.1 812.9 404.6 816.2C405.1 819.5 405.6 822.8 406.2 826.1C406.7 829.4 407.2 832.7 407.8 836.0C408.3 839.3 408.9 842.6 409.5 845.9C410.0 849.1 410.6 852.4 411.2 855.7C411.7 859.0 412.3 862.3 412.9 865.6C413.5 868.9 414.1 872.1 414.7 875.4C415.3 878.7 415.9 882.0 416.6 885.3C417.2 888.5 417.8 891.8 418.5 895.1C419.1 898.4 419.8 901.6 420.4 904.9C421.1 908.2 421.8 911.4 422.5 914.7C423.2 918.0 423.9 921.2 424.6 924.5C425.3 927.7 426.0 931.0 426.8 934.3C427.5 937.5 428.3 940.8 429.0 944.0C429.8 947.3 430.6 950.5 431.4 953.7C432.2 957.0 433.0 960.2 433.8 963.4C434.6 966.7 435.5 969.9 436.3 973.1C437.2 976.4 438.1 979.6 438.9 982.8C439.8 986.0 440.8 989.2 441.7 992.4C442.6 995.6 443.6 998.8 444.6 1002.0C445.5 1005.2 446.5 1008.4 447.6 1011.6C448.6 1014.7 449.6 1017.9 450.7 1021.1C451.8 1024.2 452.9 1027.4 454.0 1030.5C455.2 1033.6 456.3 1036.8 457.5 1039.9C458.7 1043.0 459.9 1046.1 461.2 1049.2C462.5 1052.3 463.8 1055.3 465.1 1058.4C466.4 1061.5 467.8 1064.5 469.2 1067.5C470.6 1070.6 472.1 1073.6 473.6 1076.5C475.1 1079.5 476.6 1082.5 478.2 1085.4C479.8 1088.3 481.4 1091.3 483.1 1094.1C484.8 1097.0 486.5 1099.9 488.3 1102.7C490.1 1105.5 491.9 1108.3 493.8 1111.1C495.7 1113.8 497.6 1116.5 499.6 1119.2C501.6 1121.9 503.6 1124.5 505.7 1127.1C507.8 1129.7 509.9 1132.3 512.1 1134.8C514.3 1137.3 516.6 1139.8 518.9 1142.2C521.2 1144.6 523.6 1147.0 526.0 1149.3C528.4 1151.6 530.9 1153.8 533.4 1156.0C535.9 1158.2 538.5 1160.3 541.1 1162.4C543.7 1164.5 546.3 1166.5 549.0 1168.5C551.7 1170.4 554.5 1172.3 557.3 1174.1C560.1 1176.0 562.9 1177.8 565.8 1179.5C568.6 1181.2 571.5 1182.9 574.4 1184.5C577.4 1186.1 580.3 1187.6 583.3 1189.1C586.3 1190.6 589.3 1192.0 592.3 1193.4C595.4 1194.8 598.4 1196.1 601.5 1197.4C604.6 1198.6 607.7 1199.9 610.8 1201.0C614.0 1202.2 617.1 1203.4 620.2 1204.4C623.4 1205.5 626.6 1206.6 629.7 1207.6C632.9 1208.6 636.1 1209.6 639.3 1210.5C642.5 1211.5 645.7 1212.4 649.0 1213.2C652.2 1214.1 655.4 1214.9 658.6 1215.8C661.9 1216.6 665.1 1217.4 668.4 1218.1C671.6 1218.9 674.9 1219.6 678.1 1220.3C681.4 1221.0 684.7 1221.7 687.9 1222.3C691.2 1223.0 694.5 1223.6 697.8 1224.3C701.0 1224.9 704.3 1225.5 707.6 1226.1C710.9 1226.6 714.2 1227.2 717.5 1227.7C720.8 1228.3 724.1 1228.8 727.4 1229.3C730.7 1229.8 734.0 1230.3 737.3 1230.8C740.6 1231.2 743.9 1231.7 747.2 1232.2C750.5 1232.6 753.8 1233.0 757.1 1233.4C760.4 1233.9 763.7 1234.3 767.0 1234.7C770.4 1235.1 773.7 1235.4 777.0 1235.8C780.3 1236.2 783.6 1236.5 786.9 1236.9C790.2 1237.3 793.6 1237.6 796.9 1237.9C800.2 1238.3 803.5 1238.6 806.8 1238.9C810.2 1239.2 813.5 1239.5 816.8 1239.8C820.1 1240.1 823.5 1240.4 826.8 1240.7C830.1 1241.0 833.4 1241.3 836.8 1241.5C840.1 1241.8 843.4 1242.1 846.7 1242.3C850.1 1242.6 853.4 1242.8 856.7 1243.0C860.1 1243.3 863.4 1243.5 866.7 1243.7C870.0 1244.0 873.4 1244.2 876.7 1244.4C880.0 1244.6 883.4 1244.8 886.7 1245.0C890.0 1245.2 893.3 1245.4 896.7 1245.6C900.0 1245.8 903.3 1246.0 906.7 1246.2C910.0 1246.4 913.3 1246.6 916.7 1246.7C920.0 1246.9 923.3 1247.1 926.7 1247.3C930.0 1247.4 933.3 1247.6 936.7 1247.7C940.0 1247.9 943.3 1248.0 946.7 1248.2C950.0 1248.3 953.3 1248.5 956.7 1248.6C960.0 1248.8 963.3 1248.9 966.7 1249.0C970.0 1249.2 973.3 1249.3 976.7 1249.4C980.0 1249.5 983.3 1249.6 986.7 1249.8C990.0 1249.9 993.3 1250.0 996.7 1250.1C1000.0 1250.2 1003.3 1250.3 1006.7 1250.4C1010.0 1250.6 1013.3 1250.7 1016.7 1250.8C1020.0 1250.9 1023.3 1251.0 1026.7 1251.1C1030.0 1251.2 1033.3 1251.3 1036.7 1251.4C1040.0 1251.5 1043.4 1251.6 1046.7 1251.7C1050.0 1251.8 1053.4 1251.9 1056.7 1252.0C1060.0 1252.1 1063.4 1252.2 1066.7 1252.3C1070.0 1252.3 1073.4 1252.4 1076.7 1252.5C1080.0 1252.6 1083.4 1252.7 1086.7 1252.8C1090.0 1252.9 1093.4 1252.9 1096.7 1253.0C1100.1 1253.1 1103.4 1253.2 1106.7 1253.3C1110.1 1253.3 1113.4 1253.4 1116.7 1253.5C1120.1 1253.6 1123.4 1253.6 1126.7 1253.7C1130.1 1253.8 1133.4 1253.8 1136.7 1253.9C1140.1 1254.0 1143.4 1254.0 1146.8 1254.1C1150.1 1254.2 1153.4 1254.2 1156.8 1254.3C1160.1 1254.4 1163.4 1254.4 1166.8 1254.5C1170.1 1254.6 1173.4 1254.6 1176.8 1254.7C1180.1 1254.8 1183.4 1254.8 1186.8 1254.9C1190.1 1254.9 1193.5 1255.0 1196.8 1255.1C1200.1 1255.1 1203.5 1255.2 1206.8 1255.2C1210.1 1255.3 1213.5 1255.4 1216.8 1255.4C1220.1 1255.5 1223.5 1255.5 1226.8 1255.6C1230.2 1255.6 1233.5 1255.7 1236.8 1255.8C1240.2 1255.8 1243.5 1255.9 1246.8 1255.9C1250.2 1256.0 1253.5 1256.0 1256.8 1256.1C1260.2 1256.1 1263.5 1256.2 1266.8 1256.2C1270.2 1256.3 1273.5 1256.3 1276.9 1256.4C1280.2 1256.4 1283.5 1256.5 1286.9 1256.5C1290.2 1256.5 1293.5 1256.6 1296.9 1256.6C1300.2 1256.7 1303.5 1256.7 1306.9 1256.8C1310.2 1256.8 1313.6 1256.8 1316.9 1256.9C1320.2 1256.9 1323.6 1257.0 1326.9 1257.0C1330.2 1257.0 1333.6 1257.1 1336.9 1257.1C1340.2 1257.1 1343.6 1257.1 1346.9 1257.2C1350.3 1257.2 1353.6 1257.2 1356.9 1257.2C1360.3 1257.3 1363.6 1257.3 1366.9 1257.3C1370.3 1257.3 1373.6 1257.3 1376.9 1257.4C1380.3 1257.4 1383.6 1257.4 1387.0 1257.4C1390.3 1257.4 1393.6 1257.4 1397.0 1257.4C1400.3 1257.4 1403.6 1257.4 1407.0 1257.4C1410.3 1257.4 1413.6 1257.4 1417.0 1257.4C1420.3 1257.4 1423.7 1257.4 1427.0 1257.4C1430.3 1257.4 1433.7 1257.4 1437.0 1257.4"/>
<path class="c-olive" fill="none" stroke="#8c8c00" stroke-width="6.3" stroke-linejoin="round" stroke-linecap="round" stroke-dasharray="1.3 35.9 1.4 35.9 1.4 35.9 1.4 35.9 1.4 35.9 1.4 35.9 1.4 35.9 1.4 35.9 1.4 35.9 1.4 35.9 1.4 35.9 1.4 35.9 1.4 35.9 1.4 35.8 1.4 36.0 1.4 36.3 1.4 35.2 1.4 35.2 1.4 35.3 1.4 36.0 1.4 35.3 1.4 35.8 1.4 35.8 1.4 35.1 1.4 37.0 1.4 35.6 1.4 36.3 1.4 35.6 1.4 36.5 1.4 35.2 1.4 36.6 1.4 36.2 1.4 35.4 1.4 34.0 1.4 36.2 1.4 37.6 1.4 37.8 1.4 35.0 1.4 36.4 1.4 35.9 1.4 35.4 1.4 35.6 1.4 35.6 1.4 36.7 1.4 36.0 1.4 34.9 1.4 36.0 1.4 35.8 1.4 35.8 0.7 50.0" d="M168.0 1267.0C168.5 1263.7 169.0 1260.4 169.4 1257.1C169.9 1253.8 170.4 1250.4 170.9 1247.1C171.3 1243.8 171.8 1240.5 172.3 1237.2C172.8 1233.9 173.3 1230.6 173.7 1227.3C174.2 1224.0 174.7 1220.7 175.2 1217.3C175.7 1214.0 176.2 1210.7 176.7 1207.4C177.2 1204.1 177.7 1200.8 178.2 1197.5C178.7 1194.2 179.2 1190.9 179.7 1187.6C180.2 1184.3 180.7 1181.0 181.2 1177.7C181.7 1174.3 182.2 1171.0 182.8 1167.7C183.3 1164.4 183.8 1161.1 184.3 1157.8C184.9 1154.5 185.4 1151.2 185.9 1147.9C186.5 1144.6 187.0 1141.3 187.5 1138.0C188.1 1134.7 188.6 1131.4 189.2 1128.1C189.7 1124.8 190.2 1121.5 190.8 1118.2C191.3 1114.9 191.9 1111.6 192.4 1108.3C193.0 1105.0 193.6 1101.7 194.1 1098.4C194.7 1095.1 195.2 1091.8 195.8 1088.5C196.3 1085.2 196.9 1081.9 197.5 1078.6C198.0 1075.3 198.6 1072.0 199.2 1068.7C199.7 1065.4 200.3 1062.1 200.9 1058.8C201.4 1055.5 202.0 1052.2 202.6 1048.9C203.1 1045.7 203.7 1042.4 204.3 1039.1C204.8 1035.8 205.4 1032.5 205.9 1029.2C206.5 1025.9 207.1 1022.6 207.6 1019.3C208.2 1016.0 208.8 1012.7 209.3 1009.4C209.9 1006.1 210.4 1002.8 211.0 999.5C211.6 996.2 212.1 992.9 212.7 989.6C213.2 986.3 213.8 983.0 214.4 979.7C214.9 976.4 215.5 973.1 216.1 969.8C216.6 966.5 217.2 963.2 217.7 959.9C218.3 956.6 218.9 953.3 219.4 950.0C220.0 946.7 220.6 943.4 221.2 940.1C221.7 936.8 222.3 933.5 222.9 930.3C223.5 927.0 224.1 923.7 224.7 920.4C225.3 917.1 225.9 913.8 226.5 910.5C227.1 907.2 227.7 903.9 228.3 900.6C228.9 897.3 229.5 894.1 230.2 890.8C230.8 887.5 231.4 884.2 232.1 880.9C232.7 877.6 233.3 874.3 234.0 871.1C234.6 867.8 235.2 864.5 235.9 861.2C236.5 857.9 237.2 854.6 237.8 851.4C238.4 848.1 239.1 844.8 239.7 841.5C240.4 838.2 241.0 834.9 241.6 831.7C242.3 828.4 242.9 825.1 243.6 821.8C244.2 818.5 244.8 815.2 245.5 812.0C246.1 808.7 246.8 805.4 247.4 802.1C248.1 798.8 248.7 795.5 249.4 792.3C250.0 789.0 250.7 785.7 251.3 782.4C252.0 779.1 252.6 775.9 253.3 772.6C254.0 769.3 254.6 766.0 255.3 762.8C256.0 759.5 256.7 756.2 257.4 752.9C258.1 749.7 258.8 746.4 259.5 743.1C260.3 739.9 261.0 736.6 261.7 733.3C262.5 730.1 263.2 726.8 264.0 723.6C264.8 720.3 265.6 717.1 266.4 713.8C267.2 710.6 268.0 707.3 268.8 704.1C269.7 700.8 270.5 697.6 271.4 694.4C272.2 691.1 273.1 687.9 274.0 684.7C274.9 681.5 275.8 678.2 276.7 675.0C277.6 671.8 278.5 668.6 279.4 665.4C280.4 662.2 281.3 659.0 282.3 655.7C283.2 652.5 284.2 649.3 285.1 646.1C286.1 642.9 287.1 639.7 288.1 636.5C289.2 633.4 290.3 630.2 291.6 627.1C293.0 624.1 294.4 621.1 296.1 618.2C297.8 615.3 299.7 612.6 302.0 610.0C304.3 607.4 307.0 605.2 310.1 604.4C313.3 603.5 316.7 604.7 319.3 607.0C321.7 609.2 323.4 612.1 324.7 615.4C326.0 618.5 327.0 621.7 327.9 624.9C328.9 628.1 329.7 631.4 330.4 634.6C331.1 637.9 331.8 641.1 332.3 644.4C332.9 647.7 333.4 651.0 333.9 654.3C334.4 657.6 334.9 660.9 335.3 664.3C335.8 667.6 336.2 670.9 336.7 674.2C337.2 677.5 337.6 680.8 338.1 684.2C338.5 687.5 339.0 690.8 339.4 694.1C339.9 697.4 340.3 700.7 340.8 704.0C341.2 707.4 341.7 710.7 342.2 714.0C342.6 717.3 343.1 720.6 343.5 723.9C344.0 727.2 344.4 730.6 344.9 733.9C345.3 737.2 345.7 740.5 346.2 743.8C346.6 747.1 347.0 750.5 347.4 753.8C347.9 757.1 348.3 760.4 348.7 763.7C349.1 767.1 349.5 770.4 350.0 773.7C350.4 777.0 350.8 780.3 351.2 783.6C351.6 787.0 352.0 790.3 352.5 793.6C352.9 796.9 353.3 800.2 353.7 803.6C354.2 806.9 354.6 810.2 355.0 813.5C355.5 816.8 355.9 820.1 356.4 823.5C356.8 826.8 357.2 830.1 357.7 833.4C358.2 836.7 358.6 840.0 359.1 843.3C359.6 846.7 360.0 850.0 360.5 853.3C361.0 856.6 361.5 859.9 361.9 863.2C362.4 866.5 362.9 869.8 363.4 873.1C363.9 876.4 364.4 879.8 364.9 883.1C365.4 886.4 365.9 889.7 366.4 893.0C366.9 896.3 367.4 899.6 367.9 902.9C368.5 906.2 369.0 909.5 369.5 912.8C370.0 916.1 370.6 919.4 371.1 922.7C371.7 926.0 372.2 929.3 372.8 932.6C373.3 935.9 373.9 939.2 374.5 942.5C375.1 945.8 375.7 949.1 376.3 952.4C376.9 955.7 377.5 959.0 378.1 962.2C378.7 965.5 379.4 968.8 380.0 972.1C380.7 975.4 381.3 978.7 382.0 981.9C382.7 985.2 383.4 988.5 384.1 991.7C384.8 995.0 385.5 998.3 386.3 1001.5C387.0 1004.8 387.8 1008.1 388.5 1011.3C389.3 1014.6 390.1 1017.8 390.9 1021.1C391.7 1024.3 392.5 1027.6 393.4 1030.8C394.2 1034.0 395.1 1037.3 396.0 1040.5C396.9 1043.7 397.8 1046.9 398.7 1050.1C399.7 1053.4 400.6 1056.6 401.6 1059.8C402.6 1062.9 403.7 1066.1 404.7 1069.3C405.8 1072.5 406.9 1075.6 408.0 1078.8C409.1 1081.9 410.3 1085.1 411.5 1088.2C412.8 1091.3 414.0 1094.4 415.3 1097.5C416.6 1100.5 418.0 1103.6 419.4 1106.6C420.8 1109.7 422.3 1112.7 423.8 1115.7C425.3 1118.6 426.9 1121.6 428.6 1124.5C430.2 1127.4 431.9 1130.3 433.7 1133.1C435.4 1136.0 437.3 1138.8 439.1 1141.6C441.0 1144.3 443.0 1147.0 445.0 1149.7C447.0 1152.4 449.1 1155.0 451.2 1157.5C453.4 1160.1 455.6 1162.6 457.9 1165.1C460.2 1167.5 462.5 1169.9 464.9 1172.2C467.3 1174.5 469.8 1176.8 472.3 1179.0C474.9 1181.2 477.5 1183.3 480.1 1185.3C482.8 1187.4 485.4 1189.4 488.2 1191.3C490.9 1193.2 493.7 1195.0 496.6 1196.8C499.4 1198.5 502.3 1200.2 505.2 1201.9C508.2 1203.5 511.1 1205.0 514.1 1206.5C517.1 1208.0 520.2 1209.4 523.2 1210.8C526.3 1212.1 529.4 1213.4 532.5 1214.6C535.6 1215.9 538.7 1217.0 541.9 1218.1C545.0 1219.2 548.2 1220.3 551.4 1221.3C554.6 1222.3 557.8 1223.2 561.0 1224.2C564.2 1225.1 567.5 1225.9 570.7 1226.7C574.0 1227.6 577.2 1228.3 580.5 1229.1C583.7 1229.8 587.0 1230.5 590.3 1231.2C593.6 1231.9 596.8 1232.5 600.1 1233.2C603.4 1233.8 606.7 1234.4 610.0 1234.9C613.3 1235.5 616.6 1236.0 619.9 1236.5C623.2 1237.1 626.5 1237.5 629.8 1238.0C633.2 1238.5 636.5 1238.9 639.8 1239.4C643.1 1239.8 646.4 1240.2 649.7 1240.6C653.1 1241.0 656.4 1241.4 659.7 1241.8C663.0 1242.2 666.4 1242.5 669.7 1242.9C673.0 1243.2 676.3 1243.5 679.7 1243.9C683.0 1244.2 686.3 1244.5 689.7 1244.8C693.0 1245.1 696.3 1245.4 699.7 1245.7C703.0 1245.9 706.3 1246.2 709.7 1246.5C713.0 1246.7 716.3 1247.0 719.7 1247.3C723.0 1247.5 726.3 1247.8 729.7 1248.0C733.0 1248.2 736.4 1248.5 739.7 1248.7C743.0 1248.9 746.4 1249.1 749.7 1249.3C753.0 1249.6 756.4 1249.8 759.7 1250.0C763.1 1250.2 766.4 1250.4 769.7 1250.5C773.1 1250.7 776.4 1250.9 779.8 1251.1C783.1 1251.3 786.4 1251.4 789.8 1251.6C793.1 1251.7 796.5 1251.9 799.8 1252.1C803.2 1252.2 806.5 1252.4 809.8 1252.5C813.2 1252.6 816.5 1252.8 819.9 1252.9C823.2 1253.1 826.5 1253.2 829.9 1253.3C833.2 1253.5 836.6 1253.6 839.9 1253.7C843.3 1253.9 846.6 1254.0 849.9 1254.1C853.3 1254.2 856.6 1254.4 860.0 1254.5C863.3 1254.6 866.7 1254.7 870.0 1254.8C873.4 1254.9 876.7 1255.1 880.0 1255.2C883.4 1255.3 886.7 1255.4 890.1 1255.5C893.4 1255.6 896.8 1255.7 900.1 1255.8C903.4 1255.9 906.8 1256.0 910.1 1256.1C913.5 1256.2 916.8 1256.3 920.2 1256.3C923.5 1256.4 926.9 1256.5 930.2 1256.6C933.5 1256.7 936.9 1256.7 940.2 1256.8C943.6 1256.9 946.9 1256.9 950.3 1257.0C953.6 1257.1 957.0 1257.1 960.3 1257.2C963.6 1257.2 967.0 1257.3 970.3 1257.3C973.7 1257.4 977.0 1257.4 980.4 1257.5C983.7 1257.5 987.1 1257.6 990.4 1257.6"/>
</g>
<g id="labels">
<g font-family="'Liberation Serif',serif" font-weight="bold" font-size="54.5" fill="#000">
<text transform="translate(140.6 1282.2) scale(0.970 1)" text-anchor="end">0</text>
<text transform="translate(140.6 1077.3) scale(0.965 1)" text-anchor="end">50</text>
<text transform="translate(140.6 872.4) scale(0.950 1)" text-anchor="end">100</text>
<text transform="translate(140.6 667.5) scale(0.950 1)" text-anchor="end">150</text>
<text transform="translate(140.6 462.7) scale(0.972 1)" text-anchor="end">200</text>
<text transform="translate(140.6 257.8) scale(0.972 1)" text-anchor="end">250</text>
<text transform="translate(140.6 52.9) scale(0.975 1)" text-anchor="end">300</text>
<text transform="translate(166.7 1334.6) scale(1.000 1)" text-anchor="middle">0.0</text>
<text transform="translate(673.0 1334.6) scale(0.975 1)" text-anchor="middle">0.1</text>
<text transform="translate(1183.1 1334.6) scale(0.965 1)" text-anchor="middle">0.2</text>
<text transform="translate(1691.4 1334.6) scale(0.975 1)" text-anchor="middle">0.3</text>
</g>
<g font-family="'Liberation Serif',serif" font-weight="bold" font-size="61.5" fill="#000">
<text x="943.5" y="1385" text-anchor="middle">Displacement (mm)</text>
<text transform="translate(49.8 601) rotate(-90)" text-anchor="middle">Force (N)</text>
</g>
</g>
<g id="legend">
<path d="M844.0 70.4H954.0" stroke="#4a4a4a" stroke-width="6" fill="none"/>
<text x="977.0" y="72.9" font-family="'Liberation Serif',serif" font-weight="bold" font-size="33.0" fill="#000">0.1 wt ppm</text>
<path d="M844.0 135.3H954.0" stroke="#ff3838" stroke-width="6" fill="none"/>
<text x="979.5" y="142.0" font-family="'Liberation Serif',serif" font-weight="bold" font-size="31.6" fill="#000">0.5 wt ppm</text>
<path d="M844.0 200.6H954.0" stroke="#0a6fe6" stroke-width="6" fill="none"/>
<text x="981.3" y="207.3" font-family="'Liberation Serif',serif" font-weight="bold" font-size="31.6" fill="#000">1.0 wt ppm</text>
<path d="M844.0 265.9H954.0" stroke="#00b264" stroke-width="6" stroke-dasharray="31 31.2" fill="none"/>
<text x="977.0" y="272.5" font-family="'Liberation Serif',serif" font-weight="bold" font-size="33.0" fill="#000">0.1 wt ppm</text>
<path d="M844.0 330.6H954.0" stroke="#c377e8" stroke-width="6" stroke-dasharray="31 31.2" fill="none"/>
<text x="979.5" y="341.6" font-family="'Liberation Serif',serif" font-weight="bold" font-size="31.6" fill="#000">0.5 wt ppm</text>
<path d="M844.0 396.0H954.0" stroke="#e3a000" stroke-width="6" stroke-dasharray="31 31.2" fill="none"/>
<text x="981.3" y="406.8" font-family="'Liberation Serif',serif" font-weight="bold" font-size="31.6" fill="#000">1.0 wt ppm</text>
<path d="M847.3 460.7H954.0" stroke="#00d2d8" stroke-width="6.4" stroke-linecap="round" stroke-dasharray="3.4 33.8" fill="none"/>
<text x="985.5" y="468.5" font-family="'Liberation Serif',serif" font-weight="bold" font-size="33.0" fill="#000">0.1 wt ppm</text>
<path d="M847.3 526.2H954.0" stroke="#7d3c3c" stroke-width="5.8" stroke-linecap="round" stroke-dasharray="3.4 33.8" fill="none"/>
<text x="987.5" y="537.0" font-family="'Liberation Serif',serif" font-weight="bold" font-size="31.6" fill="#000">0.5 wt ppm</text>
<path d="M847.3 591.0H954.0" stroke="#8c8c00" stroke-width="5.8" stroke-linecap="round" stroke-dasharray="3.4 33.8" fill="none"/>
<text x="989.6" y="602.6" font-family="'Liberation Serif',serif" font-weight="bold" font-size="31.6" fill="#000">1.0 wt ppm</text>
<path d="M844.0 656.0H954.0" stroke="#4a4a4a" stroke-width="6" fill="none"/>
<text x="965.5" y="671.6" font-family="'Liberation Serif',serif" font-size="52.3" fill="#000">Degradation of material properties</text>
<path d="M844.0 720.8H954.0" stroke="#00b264" stroke-width="6" stroke-dasharray="31 31.2" fill="none"/>
<text x="965.5" y="736.3" font-family="'Liberation Serif',serif" font-size="52.3" fill="#000">Mechanical-chemical coupling</text>
<path d="M847.3 786.3H954.0" stroke="#00d2d8" stroke-width="6.4" stroke-linecap="round" stroke-dasharray="3.4 33.8" fill="none"/>
<text x="965.5" y="801.7" font-family="'Liberation Serif',serif" font-size="52.3" fill="#000">Diffusion coefficient D</text>
</g>
</g>
</svg>
</body>
</html>
